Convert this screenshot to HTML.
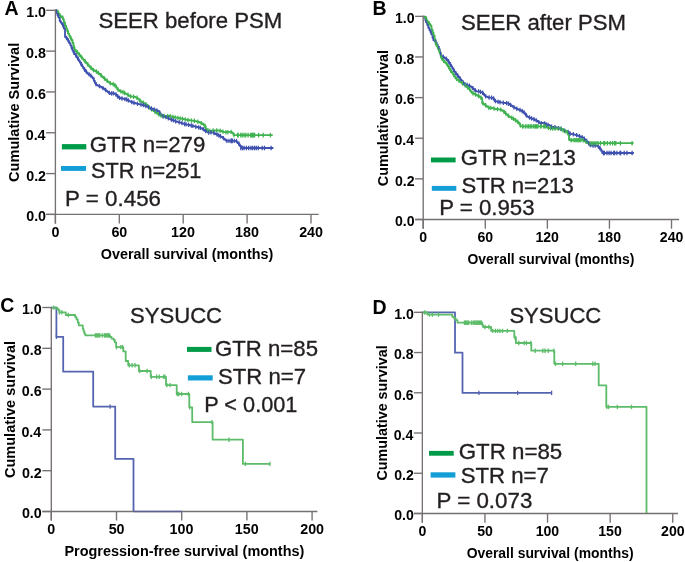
<!DOCTYPE html>
<html><head><meta charset="utf-8"><style>
html,body{margin:0;padding:0;background:#fff;width:685px;height:562px;overflow:hidden}
svg{display:block;will-change:transform}
text{font-family:"Liberation Sans",sans-serif}
</style></head><body>
<svg width="685" height="562" viewBox="0 0 685 562" font-family="Liberation Sans, sans-serif">
<rect width="685" height="562" fill="#fff"/>
<polyline points="55.4,10.2 56.5,10.2 56.5,11.3 57.5,11.3 57.5,12.1 58.6,12.1 58.6,14.4 59.7,14.4 59.7,15.6 60.7,15.6 60.7,16.6 61.8,16.6 61.8,17.4 62.9,17.4 62.9,19.3 63.9,19.3 63.9,22.5 65.0,22.5 65.0,25.6 66.1,25.6 66.1,28.4 67.1,28.4 67.1,31.1 68.2,31.1 68.2,33.8 69.3,33.8 69.3,36.1 70.3,36.1 70.3,38.1 71.4,38.1 71.4,40.3 72.5,40.3 72.5,43.0 73.5,43.0 73.5,47.3 74.6,47.3 74.6,49.7 75.7,49.7 75.7,51.2 76.7,51.2 76.7,52.3 77.8,52.3 77.8,53.3 78.9,53.3 78.9,54.5 79.9,54.5 79.9,55.8 81.0,55.8 81.0,57.1 82.1,57.1 82.1,58.4 83.1,58.4 83.1,59.6 84.2,59.6 84.2,60.9 85.3,60.9 85.3,62.1 86.3,62.1 86.3,63.3 87.4,63.3 87.4,64.5 88.5,64.5 88.5,65.7 89.5,65.7 89.5,66.9 90.6,66.9 90.6,67.9 91.7,67.9 91.7,69.0 92.7,69.0 92.7,70.0 93.8,70.0 93.8,70.5 94.9,70.5 94.9,71.0 95.9,71.0 95.9,71.6 97.0,71.6 97.0,72.3 98.1,72.3 98.1,73.2 99.1,73.2 99.1,74.0 100.2,74.0 100.2,74.9 101.3,74.9 101.3,76.0 102.3,76.0 102.3,77.0 103.4,77.0 103.4,78.0 104.5,78.0 104.5,78.9 105.5,78.9 105.5,79.9 106.6,79.9 106.6,80.8 107.7,80.8 107.7,81.6 108.7,81.6 108.7,82.4 109.8,82.4 109.8,83.3 110.9,83.3 110.9,83.8 111.9,83.8 111.9,84.0 113.0,84.0 113.0,84.3 114.1,84.3 114.1,85.0 115.1,85.0 115.1,85.7 116.2,85.7 116.2,87.7 117.3,87.7 117.3,89.4 118.3,89.4 118.3,90.2 119.4,90.2 119.4,91.0 120.5,91.0 120.5,91.4 121.5,91.4 121.5,91.8 122.6,91.8 122.6,92.2 123.7,92.2 123.7,92.7 124.7,92.7 124.7,93.3 125.8,93.3 125.8,93.8 126.9,93.8 126.9,94.4 127.9,94.4 127.9,95.1 129.0,95.1 129.0,95.8 130.1,95.8 130.1,96.4 131.1,96.4 131.1,96.5 132.2,96.5 132.2,96.6 133.3,96.6 133.3,96.7 134.3,96.7 134.3,96.8 135.4,96.8 135.4,97.3 136.5,97.3 136.5,97.8 137.5,97.8 137.5,98.6 138.6,98.6 138.6,99.7 139.7,99.7 139.7,100.8 140.7,100.8 140.7,101.5 141.8,101.5 141.8,102.1 142.9,102.1 142.9,102.8 143.9,102.8 143.9,103.4 145.0,103.4 145.0,104.1 146.1,104.1 146.1,104.7 147.1,104.7 147.1,105.5 148.2,105.5 148.2,106.8 149.3,106.8 149.3,108.2 150.3,108.2 150.3,108.9 151.4,108.9 151.4,109.6 152.5,109.6 152.5,110.2 153.5,110.2 153.5,111.0 154.6,111.0 154.6,111.8 155.7,111.8 155.7,112.7 156.7,112.7 156.7,113.5 157.8,113.5 157.8,114.1 158.9,114.1 158.9,114.6 159.9,114.6 159.9,115.2 161.0,115.2 161.0,115.7 162.1,115.7 162.1,116.0 163.1,116.0 163.1,116.0 164.2,116.0 164.2,116.0 165.3,116.0 165.3,116.0 166.3,116.0 166.3,116.0 167.4,116.0 167.4,116.0 168.5,116.0 168.5,116.0 169.5,116.0 169.5,116.2 170.6,116.2 170.6,116.5 171.7,116.5 171.7,116.7 172.7,116.7 172.7,117.0 173.8,117.0 173.8,117.2 174.9,117.2 174.9,117.4 175.9,117.4 175.9,117.6 177.0,117.6 177.0,117.9 178.1,117.9 178.1,118.1 179.1,118.1 179.1,118.3 180.2,118.3 180.2,118.5 181.3,118.5 181.3,118.7 182.3,118.7 182.3,118.9 183.4,118.9 183.4,119.2 184.5,119.2 184.5,119.4 185.5,119.4 185.5,119.6 186.6,119.6 186.6,119.8 187.7,119.8 187.7,120.0 188.7,120.0 188.7,120.2 189.8,120.2 189.8,120.4 190.9,120.4 190.9,120.6 191.9,120.6 191.9,120.7 193.0,120.7 193.0,120.8 194.1,120.8 194.1,120.9 195.1,120.9 195.1,121.1 196.2,121.1 196.2,121.4 197.3,121.4 197.3,121.7 198.3,121.7 198.3,122.0 199.4,122.0 199.4,122.4 200.5,122.4 200.5,122.9 201.5,122.9 201.5,123.5 202.6,123.5 202.6,124.0 203.7,124.0 203.7,125.0 204.7,125.0 204.7,126.5 205.8,126.5 205.8,129.1 206.9,129.1 206.9,130.2 207.9,130.2 207.9,130.5 209.0,130.5 209.0,130.8 210.1,130.8 210.1,130.8 211.1,130.8 211.1,130.7 212.2,130.7 212.2,130.6 213.3,130.6 213.3,130.5 214.3,130.5 214.3,130.5 215.4,130.5 215.4,130.5 216.5,130.5 216.5,130.5 217.5,130.5 217.5,130.5 218.6,130.5 218.6,130.6 219.7,130.6 219.7,130.8 220.7,130.8 220.7,130.9 221.8,130.9 221.8,131.4 222.9,131.4 222.9,131.9 223.9,131.9 223.9,132.2 225.0,132.2 225.0,132.2 226.1,132.2 226.1,132.2 227.1,132.2 227.1,132.2 228.2,132.2 228.2,132.1 229.3,132.1 229.3,131.9 230.3,131.9 230.3,131.8 231.4,131.8 231.4,132.4 232.5,132.4 232.5,133.1 233.5,133.1 233.5,135.1 234.6,135.1 234.6,135.1 235.7,135.1 235.7,135.1 236.7,135.1 236.7,135.1 237.8,135.1 237.8,135.1 238.9,135.1 238.9,135.1 239.9,135.1 239.9,135.1 241.0,135.1 241.0,135.1 242.1,135.1 242.1,135.1 243.1,135.1 243.1,135.1 244.2,135.1 244.2,135.1 245.3,135.1 245.3,135.1 246.3,135.1 246.3,135.1 247.4,135.1 247.4,135.1 248.5,135.1 248.5,135.1 249.5,135.1 249.5,135.1 250.6,135.1 250.6,135.1 251.7,135.1 251.7,135.1 252.7,135.1 252.7,135.1 253.8,135.1 253.8,135.1 254.9,135.1 254.9,135.1 255.9,135.1 255.9,135.1 257.0,135.1 257.0,135.1 258.1,135.1 258.1,135.1 259.1,135.1 259.1,135.1 260.2,135.1 260.2,135.1 261.3,135.1 261.3,135.1 262.3,135.1 262.3,135.1 263.4,135.1 263.4,135.1 264.5,135.1 264.5,135.1 265.5,135.1 265.5,135.1 266.6,135.1 266.6,135.1 267.7,135.1 267.7,135.1 268.7,135.1 268.7,135.1 269.8,135.1 269.8,135.1 270.9,135.1 270.9,135.1 271.9,135.1 271.9,135.1 272.7,135.1 272.7,135.1" fill="none" stroke="#3fb34f" stroke-width="1.8" stroke-linejoin="round"/>
<polyline points="55.4,10.2 56.5,10.2 56.5,13.1 57.5,13.1 57.5,15.2 58.6,15.2 58.6,17.6 59.7,17.6 59.7,20.9 60.7,20.9 60.7,22.5 61.8,22.5 61.8,24.1 62.9,24.1 62.9,25.9 63.9,25.9 63.9,28.6 65.0,28.6 65.0,36.9 66.1,36.9 66.1,38.0 67.1,38.0 67.1,39.3 68.2,39.3 68.2,41.2 69.3,41.2 69.3,43.2 70.3,43.2 70.3,45.3 71.4,45.3 71.4,48.0 72.5,48.0 72.5,50.6 73.5,50.6 73.5,52.7 74.6,52.7 74.6,54.2 75.7,54.2 75.7,55.7 76.7,55.7 76.7,57.4 77.8,57.4 77.8,59.2 78.9,59.2 78.9,60.9 79.9,60.9 79.9,62.7 81.0,62.7 81.0,64.5 82.1,64.5 82.1,66.3 83.1,66.3 83.1,68.1 84.2,68.1 84.2,69.7 85.3,69.7 85.3,71.0 86.3,71.0 86.3,72.3 87.4,72.3 87.4,73.6 88.5,73.6 88.5,74.4 89.5,74.4 89.5,75.1 90.6,75.1 90.6,75.9 91.7,75.9 91.7,77.1 92.7,77.1 92.7,78.4 93.8,78.4 93.8,80.8 94.9,80.8 94.9,83.1 95.9,83.1 95.9,84.7 97.0,84.7 97.0,85.3 98.1,85.3 98.1,85.8 99.1,85.8 99.1,86.2 100.2,86.2 100.2,86.7 101.3,86.7 101.3,87.4 102.3,87.4 102.3,88.0 103.4,88.0 103.4,88.7 104.5,88.7 104.5,89.5 105.5,89.5 105.5,90.3 106.6,90.3 106.6,91.1 107.7,91.1 107.7,92.0 108.7,92.0 108.7,92.9 109.8,92.9 109.8,93.5 110.9,93.5 110.9,93.4 111.9,93.4 111.9,93.3 113.0,93.3 113.0,93.2 114.1,93.2 114.1,93.7 115.1,93.7 115.1,94.3 116.2,94.3 116.2,95.2 117.3,95.2 117.3,96.4 118.3,96.4 118.3,97.7 119.4,97.7 119.4,98.0 120.5,98.0 120.5,98.2 121.5,98.2 121.5,98.5 122.6,98.5 122.6,98.7 123.7,98.7 123.7,98.9 124.7,98.9 124.7,99.2 125.8,99.2 125.8,99.4 126.9,99.4 126.9,99.8 127.9,99.8 127.9,100.5 129.0,100.5 129.0,101.2 130.1,101.2 130.1,101.6 131.1,101.6 131.1,102.0 132.2,102.0 132.2,102.5 133.3,102.5 133.3,102.8 134.3,102.8 134.3,103.0 135.4,103.0 135.4,103.3 136.5,103.3 136.5,103.6 137.5,103.6 137.5,103.9 138.6,103.9 138.6,104.1 139.7,104.1 139.7,104.4 140.7,104.4 140.7,104.6 141.8,104.6 141.8,104.9 142.9,104.9 142.9,105.1 143.9,105.1 143.9,105.5 145.0,105.5 145.0,105.9 146.1,105.9 146.1,106.3 147.1,106.3 147.1,106.7 148.2,106.7 148.2,107.3 149.3,107.3 149.3,107.8 150.3,107.8 150.3,108.4 151.4,108.4 151.4,108.7 152.5,108.7 152.5,109.0 153.5,109.0 153.5,109.3 154.6,109.3 154.6,109.7 155.7,109.7 155.7,110.1 156.7,110.1 156.7,110.5 157.8,110.5 157.8,111.0 158.9,111.0 158.9,112.2 159.9,112.2 159.9,113.7 161.0,113.7 161.0,115.2 162.1,115.2 162.1,116.1 163.1,116.1 163.1,116.5 164.2,116.5 164.2,116.8 165.3,116.8 165.3,117.1 166.3,117.1 166.3,117.4 167.4,117.4 167.4,118.0 168.5,118.0 168.5,118.5 169.5,118.5 169.5,119.1 170.6,119.1 170.6,119.5 171.7,119.5 171.7,119.9 172.7,119.9 172.7,120.3 173.8,120.3 173.8,120.7 174.9,120.7 174.9,121.1 175.9,121.1 175.9,121.5 177.0,121.5 177.0,121.9 178.1,121.9 178.1,122.1 179.1,122.1 179.1,122.4 180.2,122.4 180.2,122.7 181.3,122.7 181.3,123.1 182.3,123.1 182.3,123.4 183.4,123.4 183.4,123.8 184.5,123.8 184.5,124.1 185.5,124.1 185.5,124.3 186.6,124.3 186.6,124.6 187.7,124.6 187.7,124.8 188.7,124.8 188.7,125.0 189.8,125.0 189.8,125.3 190.9,125.3 190.9,125.5 191.9,125.5 191.9,125.8 193.0,125.8 193.0,126.1 194.1,126.1 194.1,126.4 195.1,126.4 195.1,126.6 196.2,126.6 196.2,126.9 197.3,126.9 197.3,127.2 198.3,127.2 198.3,127.4 199.4,127.4 199.4,127.7 200.5,127.7 200.5,128.1 201.5,128.1 201.5,128.5 202.6,128.5 202.6,129.1 203.7,129.1 203.7,130.0 204.7,130.0 204.7,130.9 205.8,130.9 205.8,131.4 206.9,131.4 206.9,131.9 207.9,131.9 207.9,132.5 209.0,132.5 209.0,132.6 210.1,132.6 210.1,132.5 211.1,132.5 211.1,132.3 212.2,132.3 212.2,132.3 213.3,132.3 213.3,132.9 214.3,132.9 214.3,133.5 215.4,133.5 215.4,134.0 216.5,134.0 216.5,134.5 217.5,134.5 217.5,135.1 218.6,135.1 218.6,135.6 219.7,135.6 219.7,136.1 220.7,136.1 220.7,136.6 221.8,136.6 221.8,137.2 222.9,137.2 222.9,138.1 223.9,138.1 223.9,139.0 225.0,139.0 225.0,139.9 226.1,139.9 226.1,140.8 227.1,140.8 227.1,140.9 228.2,140.9 228.2,140.9 229.3,140.9 229.3,140.9 230.3,140.9 230.3,140.9 231.4,140.9 231.4,140.9 232.5,140.9 232.5,140.9 233.5,140.9 233.5,140.9 234.6,140.9 234.6,140.9 235.7,140.9 235.7,140.9 236.7,140.9 236.7,142.2 237.8,142.2 237.8,143.2 238.9,143.2 238.9,144.5 239.9,144.5 239.9,146.0 241.0,146.0 241.0,147.6 242.1,147.6 242.1,148.0 243.1,148.0 243.1,148.0 244.2,148.0 244.2,148.0 245.3,148.0 245.3,148.0 246.3,148.0 246.3,148.0 247.4,148.0 247.4,148.0 248.5,148.0 248.5,148.0 249.5,148.0 249.5,148.0 250.6,148.0 250.6,148.0 251.7,148.0 251.7,148.0 252.7,148.0 252.7,148.0 253.8,148.0 253.8,148.0 254.9,148.0 254.9,148.0 255.9,148.0 255.9,148.0 257.0,148.0 257.0,148.0 258.1,148.0 258.1,148.0 259.1,148.0 259.1,148.0 260.2,148.0 260.2,148.0 261.3,148.0 261.3,148.0 262.3,148.0 262.3,148.0 263.4,148.0 263.4,148.0 264.5,148.0 264.5,148.0 265.5,148.0 265.5,148.0 266.6,148.0 266.6,148.0 267.7,148.0 267.7,148.0 268.7,148.0 268.7,148.0 269.8,148.0 269.8,148.0 270.9,148.0 270.9,148.0 271.9,148.0 271.9,148.0 273.0,148.0 273.0,148.0 273.4,148.0 273.4,148.0" fill="none" stroke="#3f51b0" stroke-width="1.8" stroke-linejoin="round"/>
<line x1="58.0" y1="9.8" x2="58.0" y2="14.2" stroke="#3fb34f" stroke-width="1.2"/>
<line x1="60.1" y1="13.3" x2="60.1" y2="17.7" stroke="#3fb34f" stroke-width="1.2"/>
<line x1="62.7" y1="15.5" x2="62.7" y2="19.9" stroke="#3fb34f" stroke-width="1.2"/>
<line x1="65.1" y1="22.1" x2="65.1" y2="26.5" stroke="#3fb34f" stroke-width="1.2"/>
<line x1="67.9" y1="29.5" x2="67.9" y2="33.9" stroke="#3fb34f" stroke-width="1.2"/>
<line x1="70.8" y1="35.7" x2="70.8" y2="40.1" stroke="#3fb34f" stroke-width="1.2"/>
<line x1="72.5" y1="39.1" x2="72.5" y2="43.5" stroke="#3fb34f" stroke-width="1.2"/>
<line x1="74.0" y1="45.0" x2="74.0" y2="49.4" stroke="#3fb34f" stroke-width="1.2"/>
<line x1="77.3" y1="50.1" x2="77.3" y2="54.5" stroke="#3fb34f" stroke-width="1.2"/>
<line x1="79.4" y1="52.4" x2="79.4" y2="56.8" stroke="#3fb34f" stroke-width="1.2"/>
<line x1="81.5" y1="54.9" x2="81.5" y2="59.3" stroke="#3fb34f" stroke-width="1.2"/>
<line x1="85.1" y1="59.1" x2="85.1" y2="63.5" stroke="#3fb34f" stroke-width="1.2"/>
<line x1="87.7" y1="62.0" x2="87.7" y2="66.4" stroke="#3fb34f" stroke-width="1.2"/>
<line x1="91.0" y1="65.6" x2="91.0" y2="70.0" stroke="#3fb34f" stroke-width="1.2"/>
<line x1="93.5" y1="67.9" x2="93.5" y2="72.3" stroke="#3fb34f" stroke-width="1.2"/>
<line x1="96.4" y1="69.3" x2="96.4" y2="73.7" stroke="#3fb34f" stroke-width="1.2"/>
<line x1="98.3" y1="70.7" x2="98.3" y2="75.1" stroke="#3fb34f" stroke-width="1.2"/>
<line x1="101.1" y1="73.1" x2="101.1" y2="77.5" stroke="#3fb34f" stroke-width="1.2"/>
<line x1="104.5" y1="76.3" x2="104.5" y2="80.7" stroke="#3fb34f" stroke-width="1.2"/>
<line x1="107.2" y1="78.6" x2="107.2" y2="83.0" stroke="#3fb34f" stroke-width="1.2"/>
<line x1="110.3" y1="81.0" x2="110.3" y2="85.4" stroke="#3fb34f" stroke-width="1.2"/>
<line x1="113.2" y1="82.0" x2="113.2" y2="86.4" stroke="#3fb34f" stroke-width="1.2"/>
<line x1="114.9" y1="83.0" x2="114.9" y2="87.4" stroke="#3fb34f" stroke-width="1.2"/>
<line x1="118.1" y1="87.4" x2="118.1" y2="91.8" stroke="#3fb34f" stroke-width="1.2"/>
<line x1="120.8" y1="89.2" x2="120.8" y2="93.6" stroke="#3fb34f" stroke-width="1.2"/>
<line x1="123.0" y1="90.0" x2="123.0" y2="94.4" stroke="#3fb34f" stroke-width="1.2"/>
<line x1="124.7" y1="90.8" x2="124.7" y2="95.2" stroke="#3fb34f" stroke-width="1.2"/>
<line x1="128.0" y1="92.6" x2="128.0" y2="97.0" stroke="#3fb34f" stroke-width="1.2"/>
<line x1="130.6" y1="94.2" x2="130.6" y2="98.6" stroke="#3fb34f" stroke-width="1.2"/>
<line x1="133.6" y1="94.5" x2="133.6" y2="98.9" stroke="#3fb34f" stroke-width="1.2"/>
<line x1="137.0" y1="95.6" x2="137.0" y2="100.0" stroke="#3fb34f" stroke-width="1.2"/>
<line x1="140.0" y1="98.4" x2="140.0" y2="102.8" stroke="#3fb34f" stroke-width="1.2"/>
<line x1="143.5" y1="100.6" x2="143.5" y2="105.0" stroke="#3fb34f" stroke-width="1.2"/>
<line x1="145.9" y1="102.1" x2="145.9" y2="106.5" stroke="#3fb34f" stroke-width="1.2"/>
<line x1="149.1" y1="105.1" x2="149.1" y2="109.5" stroke="#3fb34f" stroke-width="1.2"/>
<line x1="151.6" y1="107.2" x2="151.6" y2="111.6" stroke="#3fb34f" stroke-width="1.2"/>
<line x1="155.1" y1="109.6" x2="155.1" y2="114.0" stroke="#3fb34f" stroke-width="1.2"/>
<line x1="158.5" y1="112.0" x2="158.5" y2="116.4" stroke="#3fb34f" stroke-width="1.2"/>
<line x1="160.3" y1="112.9" x2="160.3" y2="117.3" stroke="#3fb34f" stroke-width="1.2"/>
<line x1="162.1" y1="113.8" x2="162.1" y2="118.2" stroke="#3fb34f" stroke-width="1.2"/>
<line x1="164.1" y1="113.8" x2="164.1" y2="118.2" stroke="#3fb34f" stroke-width="1.2"/>
<line x1="167.7" y1="113.8" x2="167.7" y2="118.2" stroke="#3fb34f" stroke-width="1.2"/>
<line x1="170.2" y1="114.0" x2="170.2" y2="118.4" stroke="#3fb34f" stroke-width="1.2"/>
<line x1="173.0" y1="114.7" x2="173.0" y2="119.1" stroke="#3fb34f" stroke-width="1.2"/>
<line x1="175.2" y1="115.2" x2="175.2" y2="119.6" stroke="#3fb34f" stroke-width="1.2"/>
<line x1="177.8" y1="115.7" x2="177.8" y2="120.1" stroke="#3fb34f" stroke-width="1.2"/>
<line x1="180.2" y1="116.2" x2="180.2" y2="120.6" stroke="#3fb34f" stroke-width="1.2"/>
<line x1="182.5" y1="116.7" x2="182.5" y2="121.1" stroke="#3fb34f" stroke-width="1.2"/>
<line x1="185.3" y1="117.2" x2="185.3" y2="121.6" stroke="#3fb34f" stroke-width="1.2"/>
<line x1="188.0" y1="117.8" x2="188.0" y2="122.2" stroke="#3fb34f" stroke-width="1.2"/>
<line x1="191.5" y1="118.4" x2="191.5" y2="122.8" stroke="#3fb34f" stroke-width="1.2"/>
<line x1="194.4" y1="118.6" x2="194.4" y2="123.0" stroke="#3fb34f" stroke-width="1.2"/>
<line x1="197.9" y1="119.5" x2="197.9" y2="123.9" stroke="#3fb34f" stroke-width="1.2"/>
<line x1="201.3" y1="120.9" x2="201.3" y2="125.3" stroke="#3fb34f" stroke-width="1.2"/>
<line x1="204.9" y1="123.8" x2="204.9" y2="128.2" stroke="#3fb34f" stroke-width="1.2"/>
<line x1="207.9" y1="128.1" x2="207.9" y2="132.5" stroke="#3fb34f" stroke-width="1.2"/>
<line x1="209.8" y1="128.7" x2="209.8" y2="133.1" stroke="#3fb34f" stroke-width="1.2"/>
<line x1="213.1" y1="128.3" x2="213.1" y2="132.7" stroke="#3fb34f" stroke-width="1.2"/>
<line x1="216.7" y1="128.3" x2="216.7" y2="132.7" stroke="#3fb34f" stroke-width="1.2"/>
<line x1="220.1" y1="128.6" x2="220.1" y2="133.0" stroke="#3fb34f" stroke-width="1.2"/>
<line x1="222.9" y1="129.4" x2="222.9" y2="133.8" stroke="#3fb34f" stroke-width="1.2"/>
<line x1="225.9" y1="130.0" x2="225.9" y2="134.4" stroke="#3fb34f" stroke-width="1.2"/>
<line x1="227.9" y1="130.0" x2="227.9" y2="134.4" stroke="#3fb34f" stroke-width="1.2"/>
<line x1="231.2" y1="129.7" x2="231.2" y2="134.1" stroke="#3fb34f" stroke-width="1.2"/>
<line x1="233.9" y1="132.9" x2="233.9" y2="137.3" stroke="#3fb34f" stroke-width="1.2"/>
<line x1="58.0" y1="12.9" x2="58.0" y2="17.3" stroke="#3f51b0" stroke-width="1.2"/>
<line x1="59.7" y1="17.1" x2="59.7" y2="21.5" stroke="#3f51b0" stroke-width="1.2"/>
<line x1="63.0" y1="23.0" x2="63.0" y2="27.4" stroke="#3f51b0" stroke-width="1.2"/>
<line x1="66.6" y1="35.8" x2="66.6" y2="40.2" stroke="#3f51b0" stroke-width="1.2"/>
<line x1="68.4" y1="38.4" x2="68.4" y2="42.8" stroke="#3f51b0" stroke-width="1.2"/>
<line x1="71.6" y1="45.0" x2="71.6" y2="49.4" stroke="#3f51b0" stroke-width="1.2"/>
<line x1="74.0" y1="50.5" x2="74.0" y2="54.9" stroke="#3f51b0" stroke-width="1.2"/>
<line x1="75.9" y1="53.1" x2="75.9" y2="57.5" stroke="#3f51b0" stroke-width="1.2"/>
<line x1="78.1" y1="56.6" x2="78.1" y2="61.0" stroke="#3f51b0" stroke-width="1.2"/>
<line x1="81.2" y1="61.8" x2="81.2" y2="66.2" stroke="#3f51b0" stroke-width="1.2"/>
<line x1="84.6" y1="67.3" x2="84.6" y2="71.7" stroke="#3f51b0" stroke-width="1.2"/>
<line x1="86.3" y1="69.4" x2="86.3" y2="73.8" stroke="#3f51b0" stroke-width="1.2"/>
<line x1="89.1" y1="72.2" x2="89.1" y2="76.6" stroke="#3f51b0" stroke-width="1.2"/>
<line x1="90.8" y1="73.4" x2="90.8" y2="77.8" stroke="#3f51b0" stroke-width="1.2"/>
<line x1="93.8" y1="77.2" x2="93.8" y2="81.6" stroke="#3f51b0" stroke-width="1.2"/>
<line x1="96.1" y1="81.9" x2="96.1" y2="86.3" stroke="#3f51b0" stroke-width="1.2"/>
<line x1="99.4" y1="83.9" x2="99.4" y2="88.3" stroke="#3f51b0" stroke-width="1.2"/>
<line x1="103.0" y1="85.9" x2="103.0" y2="90.3" stroke="#3f51b0" stroke-width="1.2"/>
<line x1="105.7" y1="87.8" x2="105.7" y2="92.2" stroke="#3f51b0" stroke-width="1.2"/>
<line x1="109.3" y1="90.7" x2="109.3" y2="95.1" stroke="#3f51b0" stroke-width="1.2"/>
<line x1="111.5" y1="91.2" x2="111.5" y2="95.6" stroke="#3f51b0" stroke-width="1.2"/>
<line x1="113.2" y1="91.0" x2="113.2" y2="95.4" stroke="#3f51b0" stroke-width="1.2"/>
<line x1="116.0" y1="92.3" x2="116.0" y2="96.7" stroke="#3f51b0" stroke-width="1.2"/>
<line x1="117.7" y1="94.1" x2="117.7" y2="98.5" stroke="#3f51b0" stroke-width="1.2"/>
<line x1="119.6" y1="95.7" x2="119.6" y2="100.1" stroke="#3f51b0" stroke-width="1.2"/>
<line x1="122.0" y1="96.3" x2="122.0" y2="100.7" stroke="#3f51b0" stroke-width="1.2"/>
<line x1="124.9" y1="96.9" x2="124.9" y2="101.3" stroke="#3f51b0" stroke-width="1.2"/>
<line x1="126.7" y1="97.3" x2="126.7" y2="101.7" stroke="#3f51b0" stroke-width="1.2"/>
<line x1="128.4" y1="98.2" x2="128.4" y2="102.6" stroke="#3f51b0" stroke-width="1.2"/>
<line x1="131.8" y1="99.9" x2="131.8" y2="104.3" stroke="#3f51b0" stroke-width="1.2"/>
<line x1="134.0" y1="100.6" x2="134.0" y2="105.0" stroke="#3f51b0" stroke-width="1.2"/>
<line x1="137.5" y1="101.5" x2="137.5" y2="105.9" stroke="#3f51b0" stroke-width="1.2"/>
<line x1="141.0" y1="102.4" x2="141.0" y2="106.8" stroke="#3f51b0" stroke-width="1.2"/>
<line x1="143.3" y1="102.9" x2="143.3" y2="107.3" stroke="#3f51b0" stroke-width="1.2"/>
<line x1="145.8" y1="103.8" x2="145.8" y2="108.2" stroke="#3f51b0" stroke-width="1.2"/>
<line x1="148.5" y1="104.9" x2="148.5" y2="109.3" stroke="#3f51b0" stroke-width="1.2"/>
<line x1="151.4" y1="106.3" x2="151.4" y2="110.7" stroke="#3f51b0" stroke-width="1.2"/>
<line x1="154.2" y1="107.2" x2="154.2" y2="111.6" stroke="#3f51b0" stroke-width="1.2"/>
<line x1="156.9" y1="108.2" x2="156.9" y2="112.6" stroke="#3f51b0" stroke-width="1.2"/>
<line x1="159.7" y1="110.5" x2="159.7" y2="114.9" stroke="#3f51b0" stroke-width="1.2"/>
<line x1="163.2" y1="114.1" x2="163.2" y2="118.5" stroke="#3f51b0" stroke-width="1.2"/>
<line x1="165.9" y1="114.9" x2="165.9" y2="119.3" stroke="#3f51b0" stroke-width="1.2"/>
<line x1="168.3" y1="116.0" x2="168.3" y2="120.4" stroke="#3f51b0" stroke-width="1.2"/>
<line x1="171.4" y1="117.4" x2="171.4" y2="121.8" stroke="#3f51b0" stroke-width="1.2"/>
<line x1="173.4" y1="118.2" x2="173.4" y2="122.6" stroke="#3f51b0" stroke-width="1.2"/>
<line x1="175.6" y1="119.0" x2="175.6" y2="123.4" stroke="#3f51b0" stroke-width="1.2"/>
<line x1="179.2" y1="120.1" x2="179.2" y2="124.5" stroke="#3f51b0" stroke-width="1.2"/>
<line x1="181.9" y1="120.9" x2="181.9" y2="125.3" stroke="#3f51b0" stroke-width="1.2"/>
<line x1="184.6" y1="121.8" x2="184.6" y2="126.2" stroke="#3f51b0" stroke-width="1.2"/>
<line x1="186.1" y1="122.2" x2="186.1" y2="126.6" stroke="#3f51b0" stroke-width="1.2"/>
<line x1="188.6" y1="122.7" x2="188.6" y2="127.1" stroke="#3f51b0" stroke-width="1.2"/>
<line x1="191.3" y1="123.3" x2="191.3" y2="127.7" stroke="#3f51b0" stroke-width="1.2"/>
<line x1="192.9" y1="123.7" x2="192.9" y2="128.1" stroke="#3f51b0" stroke-width="1.2"/>
<line x1="195.8" y1="124.5" x2="195.8" y2="128.9" stroke="#3f51b0" stroke-width="1.2"/>
<line x1="198.6" y1="125.2" x2="198.6" y2="129.6" stroke="#3f51b0" stroke-width="1.2"/>
<line x1="200.3" y1="125.7" x2="200.3" y2="130.1" stroke="#3f51b0" stroke-width="1.2"/>
<line x1="203.2" y1="126.9" x2="203.2" y2="131.3" stroke="#3f51b0" stroke-width="1.2"/>
<line x1="205.7" y1="128.9" x2="205.7" y2="133.3" stroke="#3f51b0" stroke-width="1.2"/>
<line x1="208.7" y1="130.4" x2="208.7" y2="134.8" stroke="#3f51b0" stroke-width="1.2"/>
<line x1="211.0" y1="130.2" x2="211.0" y2="134.6" stroke="#3f51b0" stroke-width="1.2"/>
<line x1="214.0" y1="130.8" x2="214.0" y2="135.2" stroke="#3f51b0" stroke-width="1.2"/>
<line x1="217.1" y1="132.4" x2="217.1" y2="136.8" stroke="#3f51b0" stroke-width="1.2"/>
<line x1="218.7" y1="133.2" x2="218.7" y2="137.6" stroke="#3f51b0" stroke-width="1.2"/>
<line x1="220.4" y1="134.0" x2="220.4" y2="138.4" stroke="#3f51b0" stroke-width="1.2"/>
<line x1="223.4" y1="135.9" x2="223.4" y2="140.3" stroke="#3f51b0" stroke-width="1.2"/>
<line x1="226.9" y1="138.7" x2="226.9" y2="143.1" stroke="#3f51b0" stroke-width="1.2"/>
<line x1="229.0" y1="138.7" x2="229.0" y2="143.1" stroke="#3f51b0" stroke-width="1.2"/>
<line x1="231.5" y1="138.7" x2="231.5" y2="143.1" stroke="#3f51b0" stroke-width="1.2"/>
<line x1="234.3" y1="138.7" x2="234.3" y2="143.1" stroke="#3f51b0" stroke-width="1.2"/>
<line x1="236.5" y1="138.8" x2="236.5" y2="143.2" stroke="#3f51b0" stroke-width="1.2"/>
<line x1="238.9" y1="141.6" x2="238.9" y2="146.0" stroke="#3f51b0" stroke-width="1.2"/>
<line x1="237.6" y1="132.8" x2="237.6" y2="137.4" stroke="#3fb34f" stroke-width="1.3"/>
<line x1="238.2" y1="132.8" x2="238.2" y2="137.4" stroke="#3fb34f" stroke-width="1.3"/>
<line x1="240.8" y1="132.8" x2="240.8" y2="137.4" stroke="#3fb34f" stroke-width="1.3"/>
<line x1="242.2" y1="132.8" x2="242.2" y2="137.4" stroke="#3fb34f" stroke-width="1.3"/>
<line x1="244.1" y1="132.8" x2="244.1" y2="137.4" stroke="#3fb34f" stroke-width="1.3"/>
<line x1="245.8" y1="132.8" x2="245.8" y2="137.4" stroke="#3fb34f" stroke-width="1.3"/>
<line x1="248.1" y1="132.8" x2="248.1" y2="137.4" stroke="#3fb34f" stroke-width="1.3"/>
<line x1="250.7" y1="132.8" x2="250.7" y2="137.4" stroke="#3fb34f" stroke-width="1.3"/>
<line x1="251.5" y1="132.8" x2="251.5" y2="137.4" stroke="#3fb34f" stroke-width="1.3"/>
<line x1="252.3" y1="132.8" x2="252.3" y2="137.4" stroke="#3fb34f" stroke-width="1.3"/>
<line x1="253.1" y1="132.8" x2="253.1" y2="137.4" stroke="#3fb34f" stroke-width="1.3"/>
<line x1="253.9" y1="132.8" x2="253.9" y2="137.4" stroke="#3fb34f" stroke-width="1.3"/>
<line x1="254.6" y1="132.8" x2="254.6" y2="137.4" stroke="#3fb34f" stroke-width="1.3"/>
<line x1="258.6" y1="132.8" x2="258.6" y2="137.4" stroke="#3fb34f" stroke-width="1.3"/>
<line x1="263.2" y1="132.8" x2="263.2" y2="137.4" stroke="#3fb34f" stroke-width="1.3"/>
<line x1="270.4" y1="132.8" x2="270.4" y2="137.4" stroke="#3fb34f" stroke-width="1.3"/>
<line x1="240.8" y1="145.7" x2="240.8" y2="150.3" stroke="#3f51b0" stroke-width="1.3"/>
<line x1="242.5" y1="145.7" x2="242.5" y2="150.3" stroke="#3f51b0" stroke-width="1.3"/>
<line x1="244.1" y1="145.7" x2="244.1" y2="150.3" stroke="#3f51b0" stroke-width="1.3"/>
<line x1="246.4" y1="145.7" x2="246.4" y2="150.3" stroke="#3f51b0" stroke-width="1.3"/>
<line x1="248.7" y1="145.7" x2="248.7" y2="150.3" stroke="#3f51b0" stroke-width="1.3"/>
<line x1="251.0" y1="145.7" x2="251.0" y2="150.3" stroke="#3f51b0" stroke-width="1.3"/>
<line x1="252.7" y1="145.7" x2="252.7" y2="150.3" stroke="#3f51b0" stroke-width="1.3"/>
<line x1="254.6" y1="145.7" x2="254.6" y2="150.3" stroke="#3f51b0" stroke-width="1.3"/>
<line x1="256.3" y1="145.7" x2="256.3" y2="150.3" stroke="#3f51b0" stroke-width="1.3"/>
<line x1="258.3" y1="145.7" x2="258.3" y2="150.3" stroke="#3f51b0" stroke-width="1.3"/>
<line x1="262.2" y1="145.7" x2="262.2" y2="150.3" stroke="#3f51b0" stroke-width="1.3"/>
<line x1="264.5" y1="145.7" x2="264.5" y2="150.3" stroke="#3f51b0" stroke-width="1.3"/>
<line x1="271.1" y1="145.7" x2="271.1" y2="150.3" stroke="#3f51b0" stroke-width="1.3"/>
<line x1="231.0" y1="138.6" x2="231.0" y2="143.2" stroke="#3f51b0" stroke-width="1.3"/>
<line x1="232.3" y1="138.6" x2="232.3" y2="143.2" stroke="#3f51b0" stroke-width="1.3"/>
<polyline points="423.2,16.6 424.2,16.6 424.2,17.4 425.3,17.4 425.3,20.3 426.3,20.3 426.3,22.6 427.3,22.6 427.3,25.0 428.4,25.0 428.4,27.8 429.4,27.8 429.4,30.0 430.4,30.0 430.4,32.0 431.5,32.0 431.5,34.4 432.5,34.4 432.5,37.7 433.5,37.7 433.5,39.9 434.6,39.9 434.6,41.2 435.6,41.2 435.6,42.5 436.7,42.5 436.7,44.5 437.7,44.5 437.7,46.6 438.7,46.6 438.7,49.2 439.8,49.2 439.8,52.7 440.8,52.7 440.8,55.6 441.8,55.6 441.8,56.3 442.9,56.3 442.9,57.0 443.9,57.0 443.9,57.6 444.9,57.6 444.9,58.3 446.0,58.3 446.0,58.9 447.0,58.9 447.0,59.9 448.0,59.9 448.0,61.4 449.1,61.4 449.1,63.0 450.1,63.0 450.1,64.7 451.1,64.7 451.1,66.4 452.2,66.4 452.2,68.1 453.2,68.1 453.2,69.9 454.2,69.9 454.2,71.6 455.3,71.6 455.3,73.1 456.3,73.1 456.3,74.4 457.3,74.4 457.3,75.7 458.4,75.7 458.4,77.0 459.4,77.0 459.4,78.3 460.4,78.3 460.4,79.6 461.5,79.6 461.5,81.0 462.5,81.0 462.5,82.5 463.6,82.5 463.6,83.8 464.6,83.8 464.6,84.2 465.6,84.2 465.6,84.6 466.7,84.6 466.7,84.9 467.7,84.9 467.7,85.3 468.7,85.3 468.7,85.8 469.8,85.8 469.8,86.2 470.8,86.2 470.8,86.7 471.8,86.7 471.8,87.7 472.9,87.7 472.9,88.7 473.9,88.7 473.9,89.6 474.9,89.6 474.9,90.5 476.0,90.5 476.0,91.4 477.0,91.4 477.0,91.4 478.0,91.4 478.0,91.4 479.1,91.4 479.1,91.6 480.1,91.6 480.1,91.9 481.1,91.9 481.1,92.3 482.2,92.3 482.2,92.6 483.2,92.6 483.2,94.0 484.2,94.0 484.2,95.4 485.3,95.4 485.3,96.3 486.3,96.3 486.3,96.7 487.3,96.7 487.3,97.1 488.4,97.1 488.4,97.5 489.4,97.5 489.4,97.6 490.5,97.6 490.5,97.7 491.5,97.7 491.5,97.8 492.5,97.8 492.5,97.9 493.6,97.9 493.6,99.2 494.6,99.2 494.6,101.0 495.6,101.0 495.6,101.3 496.7,101.3 496.7,101.5 497.7,101.5 497.7,101.8 498.7,101.8 498.7,102.0 499.8,102.0 499.8,102.2 500.8,102.2 500.8,102.4 501.8,102.4 501.8,102.6 502.9,102.6 502.9,102.8 503.9,102.8 503.9,102.9 504.9,102.9 504.9,103.0 506.0,103.0 506.0,103.1 507.0,103.1 507.0,103.2 508.0,103.2 508.0,103.7 509.1,103.7 509.1,104.3 510.1,104.3 510.1,104.9 511.1,104.9 511.1,105.7 512.2,105.7 512.2,106.4 513.2,106.4 513.2,107.2 514.3,107.2 514.3,107.7 515.3,107.7 515.3,108.2 516.3,108.2 516.3,108.7 517.4,108.7 517.4,109.2 518.4,109.2 518.4,109.6 519.4,109.6 519.4,110.0 520.5,110.0 520.5,110.4 521.5,110.4 521.5,111.1 522.5,111.1 522.5,111.7 523.6,111.7 523.6,112.3 524.6,112.3 524.6,113.5 525.6,113.5 525.6,115.1 526.7,115.1 526.7,116.3 527.7,116.3 527.7,116.8 528.7,116.8 528.7,117.4 529.8,117.4 529.8,117.9 530.8,117.9 530.8,118.3 531.8,118.3 531.8,118.6 532.9,118.6 532.9,119.0 533.9,119.0 533.9,119.5 534.9,119.5 534.9,120.0 536.0,120.0 536.0,120.5 537.0,120.5 537.0,121.0 538.0,121.0 538.0,121.9 539.1,121.9 539.1,122.8 540.1,122.8 540.1,123.1 541.2,123.1 541.2,123.0 542.2,123.0 542.2,122.9 543.2,122.9 543.2,122.8 544.3,122.8 544.3,123.5 545.3,123.5 545.3,124.2 546.3,124.2 546.3,124.7 547.4,124.7 547.4,124.8 548.4,124.8 548.4,125.0 549.4,125.0 549.4,125.6 550.5,125.6 550.5,126.3 551.5,126.3 551.5,126.8 552.5,126.8 552.5,127.0 553.6,127.0 553.6,127.1 554.6,127.1 554.6,127.2 555.6,127.2 555.6,127.4 556.7,127.4 556.7,127.7 557.7,127.7 557.7,128.0 558.7,128.0 558.7,128.3 559.8,128.3 559.8,128.7 560.8,128.7 560.8,129.1 561.8,129.1 561.8,129.5 562.9,129.5 562.9,130.0 563.9,130.0 563.9,130.5 564.9,130.5 564.9,131.0 566.0,131.0 566.0,131.4 567.0,131.4 567.0,131.7 568.1,131.7 568.1,132.1 569.1,132.1 569.1,133.2 570.1,133.2 570.1,133.9 571.2,133.9 571.2,134.1 572.2,134.1 572.2,134.2 573.2,134.2 573.2,134.3 574.3,134.3 574.3,134.6 575.3,134.6 575.3,134.9 576.3,134.9 576.3,135.2 577.4,135.2 577.4,135.6 578.4,135.6 578.4,135.9 579.4,135.9 579.4,136.4 580.5,136.4 580.5,136.8 581.5,136.8 581.5,137.2 582.5,137.2 582.5,137.7 583.6,137.7 583.6,138.6 584.6,138.6 584.6,139.4 585.6,139.4 585.6,140.5 586.7,140.5 586.7,141.7 587.7,141.7 587.7,142.9 588.7,142.9 588.7,144.0 589.8,144.0 589.8,145.0 590.8,145.0 590.8,145.5 591.9,145.5 591.9,145.5 592.9,145.5 592.9,145.5 593.9,145.5 593.9,145.5 595.0,145.5 595.0,145.5 596.0,145.5 596.0,145.5 597.0,145.5 597.0,145.9 598.1,145.9 598.1,146.7 599.1,146.7 599.1,147.7 600.1,147.7 600.1,149.2 601.2,149.2 601.2,150.9 602.2,150.9 602.2,153.0 603.2,153.0 603.2,153.0 604.3,153.0 604.3,153.0 605.3,153.0 605.3,153.0 606.3,153.0 606.3,153.0 607.4,153.0 607.4,153.0 608.4,153.0 608.4,153.0 609.4,153.0 609.4,153.0 610.5,153.0 610.5,153.0 611.5,153.0 611.5,153.0 612.5,153.0 612.5,153.0 613.6,153.0 613.6,153.0 614.6,153.0 614.6,153.0 615.6,153.0 615.6,153.0 616.7,153.0 616.7,153.0 617.7,153.0 617.7,153.0 618.8,153.0 618.8,153.0 619.8,153.0 619.8,153.0 620.8,153.0 620.8,153.0 621.9,153.0 621.9,153.0 622.9,153.0 622.9,153.0 623.9,153.0 623.9,153.0 625.0,153.0 625.0,153.0 626.0,153.0 626.0,153.0 627.0,153.0 627.0,153.0 628.1,153.0 628.1,153.0 629.1,153.0 629.1,153.0 630.1,153.0 630.1,153.0 631.2,153.0 631.2,153.0 632.2,153.0 632.2,153.0 633.2,153.0 633.2,153.0 633.9,153.0 633.9,153.0" fill="none" stroke="#3f51b0" stroke-width="1.8" stroke-linejoin="round"/>
<polyline points="423.2,16.6 424.2,16.6 424.2,16.6 425.3,16.6 425.3,17.6 426.3,17.6 426.3,20.1 427.3,20.1 427.3,21.6 428.4,21.6 428.4,23.0 429.4,23.0 429.4,24.1 430.4,24.1 430.4,25.7 431.5,25.7 431.5,29.7 432.5,29.7 432.5,32.3 433.5,32.3 433.5,35.4 434.6,35.4 434.6,39.5 435.6,39.5 435.6,43.8 436.7,43.8 436.7,46.2 437.7,46.2 437.7,48.3 438.7,48.3 438.7,50.6 439.8,50.6 439.8,53.3 440.8,53.3 440.8,57.6 441.8,57.6 441.8,59.0 442.9,59.0 442.9,60.4 443.9,60.4 443.9,61.5 444.9,61.5 444.9,62.5 446.0,62.5 446.0,63.6 447.0,63.6 447.0,64.9 448.0,64.9 448.0,66.7 449.1,66.7 449.1,68.5 450.1,68.5 450.1,70.4 451.1,70.4 451.1,71.8 452.2,71.8 452.2,73.2 453.2,73.2 453.2,74.7 454.2,74.7 454.2,76.4 455.3,76.4 455.3,78.2 456.3,78.2 456.3,79.1 457.3,79.1 457.3,79.8 458.4,79.8 458.4,80.6 459.4,80.6 459.4,81.4 460.4,81.4 460.4,82.2 461.5,82.2 461.5,83.0 462.5,83.0 462.5,83.7 463.6,83.7 463.6,84.5 464.6,84.5 464.6,85.3 465.6,85.3 465.6,86.1 466.7,86.1 466.7,87.0 467.7,87.0 467.7,88.0 468.7,88.0 468.7,89.0 469.8,89.0 469.8,90.1 470.8,90.1 470.8,91.7 471.8,91.7 471.8,92.9 472.9,92.9 472.9,93.4 473.9,93.4 473.9,93.9 474.9,93.9 474.9,94.4 476.0,94.4 476.0,95.0 477.0,95.0 477.0,95.5 478.0,95.5 478.0,96.0 479.1,96.0 479.1,96.7 480.1,96.7 480.1,97.4 481.1,97.4 481.1,98.2 482.2,98.2 482.2,103.2 483.2,103.2 483.2,103.9 484.2,103.9 484.2,104.6 485.3,104.6 485.3,105.4 486.3,105.4 486.3,106.1 487.3,106.1 487.3,106.9 488.4,106.9 488.4,107.7 489.4,107.7 489.4,107.8 490.5,107.8 490.5,107.9 491.5,107.9 491.5,108.0 492.5,108.0 492.5,108.2 493.6,108.2 493.6,108.5 494.6,108.5 494.6,108.8 495.6,108.8 495.6,109.0 496.7,109.0 496.7,109.1 497.7,109.1 497.7,109.2 498.7,109.2 498.7,109.4 499.8,109.4 499.8,109.5 500.8,109.5 500.8,109.9 501.8,109.9 501.8,110.4 502.9,110.4 502.9,111.1 503.9,111.1 503.9,112.1 504.9,112.1 504.9,113.2 506.0,113.2 506.0,114.1 507.0,114.1 507.0,115.0 508.0,115.0 508.0,115.9 509.1,115.9 509.1,116.7 510.1,116.7 510.1,117.2 511.1,117.2 511.1,117.8 512.2,117.8 512.2,118.3 513.2,118.3 513.2,119.0 514.3,119.0 514.3,119.7 515.3,119.7 515.3,120.5 516.3,120.5 516.3,121.2 517.4,121.2 517.4,121.9 518.4,121.9 518.4,122.7 519.4,122.7 519.4,124.5 520.5,124.5 520.5,126.4 521.5,126.4 521.5,126.4 522.5,126.4 522.5,126.4 523.6,126.4 523.6,126.4 524.6,126.4 524.6,126.4 525.6,126.4 525.6,126.4 526.7,126.4 526.7,126.4 527.7,126.4 527.7,126.4 528.7,126.4 528.7,126.4 529.8,126.4 529.8,126.4 530.8,126.4 530.8,126.4 531.8,126.4 531.8,126.4 532.9,126.4 532.9,126.4 533.9,126.4 533.9,126.4 534.9,126.4 534.9,126.4 536.0,126.4 536.0,126.4 537.0,126.4 537.0,126.4 538.0,126.4 538.0,126.4 539.1,126.4 539.1,126.4 540.1,126.4 540.1,126.4 541.2,126.4 541.2,126.4 542.2,126.4 542.2,126.4 543.2,126.4 543.2,126.4 544.3,126.4 544.3,126.4 545.3,126.4 545.3,126.6 546.3,126.6 546.3,127.1 547.4,127.1 547.4,127.6 548.4,127.6 548.4,127.9 549.4,127.9 549.4,128.2 550.5,128.2 550.5,128.4 551.5,128.4 551.5,128.6 552.5,128.6 552.5,128.6 553.6,128.6 553.6,128.6 554.6,128.6 554.6,128.6 555.6,128.6 555.6,128.6 556.7,128.6 556.7,128.6 557.7,128.6 557.7,128.6 558.7,128.6 558.7,128.6 559.8,128.6 559.8,128.6 560.8,128.6 560.8,129.1 561.8,129.1 561.8,129.7 562.9,129.7 562.9,130.4 563.9,130.4 563.9,130.9 564.9,130.9 564.9,131.4 566.0,131.4 566.0,131.9 567.0,131.9 567.0,132.3 568.1,132.3 568.1,134.7 569.1,134.7 569.1,140.1 570.1,140.1 570.1,140.1 571.2,140.1 571.2,140.1 572.2,140.1 572.2,140.1 573.2,140.1 573.2,140.1 574.3,140.1 574.3,140.1 575.3,140.1 575.3,140.1 576.3,140.1 576.3,140.1 577.4,140.1 577.4,140.1 578.4,140.1 578.4,140.1 579.4,140.1 579.4,140.1 580.5,140.1 580.5,140.1 581.5,140.1 581.5,140.1 582.5,140.1 582.5,140.2 583.6,140.2 583.6,140.8 584.6,140.8 584.6,141.3 585.6,141.3 585.6,141.9 586.7,141.9 586.7,142.6 587.7,142.6 587.7,143.2 588.7,143.2 588.7,143.2 589.8,143.2 589.8,143.2 590.8,143.2 590.8,143.2 591.9,143.2 591.9,143.2 592.9,143.2 592.9,143.2 593.9,143.2 593.9,143.2 595.0,143.2 595.0,143.2 596.0,143.2 596.0,143.2 597.0,143.2 597.0,143.2 598.1,143.2 598.1,143.2 599.1,143.2 599.1,143.2 600.1,143.2 600.1,143.2 601.2,143.2 601.2,143.2 602.2,143.2 602.2,143.2 603.2,143.2 603.2,143.2 604.3,143.2 604.3,143.2 605.3,143.2 605.3,143.2 606.3,143.2 606.3,143.2 607.4,143.2 607.4,143.2 608.4,143.2 608.4,143.2 609.4,143.2 609.4,143.2 610.5,143.2 610.5,143.2 611.5,143.2 611.5,143.2 612.5,143.2 612.5,143.2 613.6,143.2 613.6,143.2 614.6,143.2 614.6,143.2 615.6,143.2 615.6,143.2 616.7,143.2 616.7,143.2 617.7,143.2 617.7,143.2 618.8,143.2 618.8,143.2 619.8,143.2 619.8,143.2 620.8,143.2 620.8,143.2 621.9,143.2 621.9,143.2 622.9,143.2 622.9,143.2 623.9,143.2 623.9,143.2 625.0,143.2 625.0,143.2 626.0,143.2 626.0,143.2 627.0,143.2 627.0,143.2 628.1,143.2 628.1,143.2 629.1,143.2 629.1,143.2 630.1,143.2 630.1,143.2 631.2,143.2 631.2,143.2 632.2,143.2 632.2,143.2 633.2,143.2 633.2,143.2 633.6,143.2 633.6,143.2" fill="none" stroke="#3fb34f" stroke-width="1.8" stroke-linejoin="round"/>
<line x1="426.0" y1="18.6" x2="426.0" y2="23.0" stroke="#3f51b0" stroke-width="1.2"/>
<line x1="428.3" y1="24.1" x2="428.3" y2="28.5" stroke="#3f51b0" stroke-width="1.2"/>
<line x1="431.1" y1="30.2" x2="431.1" y2="34.6" stroke="#3f51b0" stroke-width="1.2"/>
<line x1="433.3" y1="36.4" x2="433.3" y2="40.8" stroke="#3f51b0" stroke-width="1.2"/>
<line x1="435.7" y1="39.7" x2="435.7" y2="44.1" stroke="#3f51b0" stroke-width="1.2"/>
<line x1="438.8" y1="45.9" x2="438.8" y2="50.3" stroke="#3f51b0" stroke-width="1.2"/>
<line x1="440.4" y1="51.2" x2="440.4" y2="55.6" stroke="#3f51b0" stroke-width="1.2"/>
<line x1="443.2" y1="54.6" x2="443.2" y2="59.0" stroke="#3f51b0" stroke-width="1.2"/>
<line x1="446.3" y1="56.6" x2="446.3" y2="61.0" stroke="#3f51b0" stroke-width="1.2"/>
<line x1="448.5" y1="59.1" x2="448.5" y2="63.5" stroke="#3f51b0" stroke-width="1.2"/>
<line x1="450.5" y1="62.3" x2="450.5" y2="66.7" stroke="#3f51b0" stroke-width="1.2"/>
<line x1="453.7" y1="67.7" x2="453.7" y2="72.1" stroke="#3f51b0" stroke-width="1.2"/>
<line x1="455.8" y1="70.9" x2="455.8" y2="75.3" stroke="#3f51b0" stroke-width="1.2"/>
<line x1="457.7" y1="73.3" x2="457.7" y2="77.7" stroke="#3f51b0" stroke-width="1.2"/>
<line x1="460.2" y1="76.4" x2="460.2" y2="80.8" stroke="#3f51b0" stroke-width="1.2"/>
<line x1="463.2" y1="80.5" x2="463.2" y2="84.9" stroke="#3f51b0" stroke-width="1.2"/>
<line x1="465.0" y1="82.0" x2="465.0" y2="86.4" stroke="#3f51b0" stroke-width="1.2"/>
<line x1="467.2" y1="82.8" x2="467.2" y2="87.2" stroke="#3f51b0" stroke-width="1.2"/>
<line x1="469.5" y1="83.6" x2="469.5" y2="88.0" stroke="#3f51b0" stroke-width="1.2"/>
<line x1="472.8" y1="85.9" x2="472.8" y2="90.3" stroke="#3f51b0" stroke-width="1.2"/>
<line x1="475.2" y1="88.1" x2="475.2" y2="92.5" stroke="#3f51b0" stroke-width="1.2"/>
<line x1="478.6" y1="89.2" x2="478.6" y2="93.6" stroke="#3f51b0" stroke-width="1.2"/>
<line x1="480.5" y1="89.7" x2="480.5" y2="94.1" stroke="#3f51b0" stroke-width="1.2"/>
<line x1="482.7" y1="90.5" x2="482.7" y2="94.9" stroke="#3f51b0" stroke-width="1.2"/>
<line x1="485.7" y1="94.0" x2="485.7" y2="98.4" stroke="#3f51b0" stroke-width="1.2"/>
<line x1="489.1" y1="95.3" x2="489.1" y2="99.7" stroke="#3f51b0" stroke-width="1.2"/>
<line x1="491.6" y1="95.5" x2="491.6" y2="99.9" stroke="#3f51b0" stroke-width="1.2"/>
<line x1="493.6" y1="96.2" x2="493.6" y2="100.6" stroke="#3f51b0" stroke-width="1.2"/>
<line x1="495.4" y1="98.9" x2="495.4" y2="103.3" stroke="#3f51b0" stroke-width="1.2"/>
<line x1="498.1" y1="99.5" x2="498.1" y2="103.9" stroke="#3f51b0" stroke-width="1.2"/>
<line x1="500.0" y1="100.0" x2="500.0" y2="104.4" stroke="#3f51b0" stroke-width="1.2"/>
<line x1="503.3" y1="100.6" x2="503.3" y2="105.0" stroke="#3f51b0" stroke-width="1.2"/>
<line x1="506.6" y1="100.9" x2="506.6" y2="105.3" stroke="#3f51b0" stroke-width="1.2"/>
<line x1="508.5" y1="101.5" x2="508.5" y2="105.9" stroke="#3f51b0" stroke-width="1.2"/>
<line x1="510.6" y1="102.7" x2="510.6" y2="107.1" stroke="#3f51b0" stroke-width="1.2"/>
<line x1="513.9" y1="105.0" x2="513.9" y2="109.4" stroke="#3f51b0" stroke-width="1.2"/>
<line x1="516.8" y1="106.5" x2="516.8" y2="110.9" stroke="#3f51b0" stroke-width="1.2"/>
<line x1="520.0" y1="107.8" x2="520.0" y2="112.2" stroke="#3f51b0" stroke-width="1.2"/>
<line x1="522.3" y1="109.0" x2="522.3" y2="113.4" stroke="#3f51b0" stroke-width="1.2"/>
<line x1="524.1" y1="110.2" x2="524.1" y2="114.6" stroke="#3f51b0" stroke-width="1.2"/>
<line x1="526.3" y1="113.1" x2="526.3" y2="117.5" stroke="#3f51b0" stroke-width="1.2"/>
<line x1="529.5" y1="115.3" x2="529.5" y2="119.7" stroke="#3f51b0" stroke-width="1.2"/>
<line x1="531.6" y1="116.2" x2="531.6" y2="120.6" stroke="#3f51b0" stroke-width="1.2"/>
<line x1="533.9" y1="117.0" x2="533.9" y2="121.4" stroke="#3f51b0" stroke-width="1.2"/>
<line x1="536.3" y1="118.2" x2="536.3" y2="122.6" stroke="#3f51b0" stroke-width="1.2"/>
<line x1="538.8" y1="119.9" x2="538.8" y2="124.3" stroke="#3f51b0" stroke-width="1.2"/>
<line x1="541.2" y1="120.9" x2="541.2" y2="125.3" stroke="#3f51b0" stroke-width="1.2"/>
<line x1="544.7" y1="121.2" x2="544.7" y2="125.6" stroke="#3f51b0" stroke-width="1.2"/>
<line x1="546.5" y1="122.4" x2="546.5" y2="126.8" stroke="#3f51b0" stroke-width="1.2"/>
<line x1="548.1" y1="122.7" x2="548.1" y2="127.1" stroke="#3f51b0" stroke-width="1.2"/>
<line x1="551.6" y1="124.6" x2="551.6" y2="129.0" stroke="#3f51b0" stroke-width="1.2"/>
<line x1="555.0" y1="125.0" x2="555.0" y2="129.4" stroke="#3f51b0" stroke-width="1.2"/>
<line x1="558.6" y1="125.9" x2="558.6" y2="130.3" stroke="#3f51b0" stroke-width="1.2"/>
<line x1="561.1" y1="126.8" x2="561.1" y2="131.2" stroke="#3f51b0" stroke-width="1.2"/>
<line x1="564.6" y1="128.4" x2="564.6" y2="132.8" stroke="#3f51b0" stroke-width="1.2"/>
<line x1="568.1" y1="129.7" x2="568.1" y2="134.1" stroke="#3f51b0" stroke-width="1.2"/>
<line x1="570.1" y1="131.5" x2="570.1" y2="135.9" stroke="#3f51b0" stroke-width="1.2"/>
<line x1="573.3" y1="132.0" x2="573.3" y2="136.4" stroke="#3f51b0" stroke-width="1.2"/>
<line x1="576.6" y1="132.9" x2="576.6" y2="137.3" stroke="#3f51b0" stroke-width="1.2"/>
<line x1="579.5" y1="134.0" x2="579.5" y2="138.4" stroke="#3f51b0" stroke-width="1.2"/>
<line x1="582.1" y1="135.0" x2="582.1" y2="139.4" stroke="#3f51b0" stroke-width="1.2"/>
<line x1="584.3" y1="136.5" x2="584.3" y2="140.9" stroke="#3f51b0" stroke-width="1.2"/>
<line x1="586.6" y1="138.8" x2="586.6" y2="143.2" stroke="#3f51b0" stroke-width="1.2"/>
<line x1="588.6" y1="141.1" x2="588.6" y2="145.5" stroke="#3f51b0" stroke-width="1.2"/>
<line x1="590.3" y1="142.8" x2="590.3" y2="147.2" stroke="#3f51b0" stroke-width="1.2"/>
<line x1="593.1" y1="143.3" x2="593.1" y2="147.7" stroke="#3f51b0" stroke-width="1.2"/>
<line x1="595.2" y1="143.3" x2="595.2" y2="147.7" stroke="#3f51b0" stroke-width="1.2"/>
<line x1="598.5" y1="144.4" x2="598.5" y2="148.8" stroke="#3f51b0" stroke-width="1.2"/>
<line x1="600.1" y1="146.2" x2="600.1" y2="150.6" stroke="#3f51b0" stroke-width="1.2"/>
<line x1="426.0" y1="15.9" x2="426.0" y2="20.3" stroke="#3fb34f" stroke-width="1.2"/>
<line x1="429.0" y1="21.0" x2="429.0" y2="25.4" stroke="#3fb34f" stroke-width="1.2"/>
<line x1="432.5" y1="28.8" x2="432.5" y2="33.2" stroke="#3fb34f" stroke-width="1.2"/>
<line x1="435.9" y1="41.1" x2="435.9" y2="45.5" stroke="#3fb34f" stroke-width="1.2"/>
<line x1="439.3" y1="48.7" x2="439.3" y2="53.1" stroke="#3fb34f" stroke-width="1.2"/>
<line x1="442.1" y1="56.5" x2="442.1" y2="60.9" stroke="#3fb34f" stroke-width="1.2"/>
<line x1="443.7" y1="58.6" x2="443.7" y2="63.0" stroke="#3fb34f" stroke-width="1.2"/>
<line x1="446.8" y1="61.7" x2="446.8" y2="66.1" stroke="#3fb34f" stroke-width="1.2"/>
<line x1="448.7" y1="64.8" x2="448.7" y2="69.2" stroke="#3fb34f" stroke-width="1.2"/>
<line x1="450.9" y1="68.6" x2="450.9" y2="73.0" stroke="#3fb34f" stroke-width="1.2"/>
<line x1="453.8" y1="72.7" x2="453.8" y2="77.1" stroke="#3fb34f" stroke-width="1.2"/>
<line x1="456.5" y1="76.7" x2="456.5" y2="81.1" stroke="#3fb34f" stroke-width="1.2"/>
<line x1="458.9" y1="78.4" x2="458.9" y2="82.8" stroke="#3fb34f" stroke-width="1.2"/>
<line x1="462.4" y1="81.1" x2="462.4" y2="85.5" stroke="#3fb34f" stroke-width="1.2"/>
<line x1="465.3" y1="83.2" x2="465.3" y2="87.6" stroke="#3fb34f" stroke-width="1.2"/>
<line x1="467.5" y1="85.1" x2="467.5" y2="89.5" stroke="#3fb34f" stroke-width="1.2"/>
<line x1="469.6" y1="87.2" x2="469.6" y2="91.6" stroke="#3fb34f" stroke-width="1.2"/>
<line x1="473.0" y1="91.0" x2="473.0" y2="95.4" stroke="#3fb34f" stroke-width="1.2"/>
<line x1="475.5" y1="92.3" x2="475.5" y2="96.7" stroke="#3fb34f" stroke-width="1.2"/>
<line x1="478.7" y1="93.9" x2="478.7" y2="98.3" stroke="#3fb34f" stroke-width="1.2"/>
<line x1="481.0" y1="95.5" x2="481.0" y2="99.9" stroke="#3fb34f" stroke-width="1.2"/>
<line x1="483.0" y1="101.2" x2="483.0" y2="105.6" stroke="#3fb34f" stroke-width="1.2"/>
<line x1="485.6" y1="103.1" x2="485.6" y2="107.5" stroke="#3fb34f" stroke-width="1.2"/>
<line x1="488.9" y1="105.5" x2="488.9" y2="109.9" stroke="#3fb34f" stroke-width="1.2"/>
<line x1="490.8" y1="105.7" x2="490.8" y2="110.1" stroke="#3fb34f" stroke-width="1.2"/>
<line x1="494.0" y1="106.3" x2="494.0" y2="110.7" stroke="#3fb34f" stroke-width="1.2"/>
<line x1="497.5" y1="107.0" x2="497.5" y2="111.4" stroke="#3fb34f" stroke-width="1.2"/>
<line x1="500.7" y1="107.4" x2="500.7" y2="111.8" stroke="#3fb34f" stroke-width="1.2"/>
<line x1="504.0" y1="109.5" x2="504.0" y2="113.9" stroke="#3fb34f" stroke-width="1.2"/>
<line x1="505.6" y1="111.1" x2="505.6" y2="115.5" stroke="#3fb34f" stroke-width="1.2"/>
<line x1="508.5" y1="113.6" x2="508.5" y2="118.0" stroke="#3fb34f" stroke-width="1.2"/>
<line x1="511.8" y1="115.6" x2="511.8" y2="120.0" stroke="#3fb34f" stroke-width="1.2"/>
<line x1="513.5" y1="116.6" x2="513.5" y2="121.0" stroke="#3fb34f" stroke-width="1.2"/>
<line x1="515.6" y1="118.1" x2="515.6" y2="122.5" stroke="#3fb34f" stroke-width="1.2"/>
<line x1="517.7" y1="119.6" x2="517.7" y2="124.0" stroke="#3fb34f" stroke-width="1.2"/>
<line x1="520.4" y1="123.1" x2="520.4" y2="127.5" stroke="#3fb34f" stroke-width="1.2"/>
<line x1="522.8" y1="124.2" x2="522.8" y2="128.6" stroke="#3fb34f" stroke-width="1.2"/>
<line x1="525.4" y1="124.2" x2="525.4" y2="128.6" stroke="#3fb34f" stroke-width="1.2"/>
<line x1="528.5" y1="124.2" x2="528.5" y2="128.6" stroke="#3fb34f" stroke-width="1.2"/>
<line x1="530.1" y1="124.2" x2="530.1" y2="128.6" stroke="#3fb34f" stroke-width="1.2"/>
<line x1="531.8" y1="124.2" x2="531.8" y2="128.6" stroke="#3fb34f" stroke-width="1.2"/>
<line x1="533.6" y1="124.2" x2="533.6" y2="128.6" stroke="#3fb34f" stroke-width="1.2"/>
<line x1="535.4" y1="124.2" x2="535.4" y2="128.6" stroke="#3fb34f" stroke-width="1.2"/>
<line x1="537.1" y1="124.2" x2="537.1" y2="128.6" stroke="#3fb34f" stroke-width="1.2"/>
<line x1="540.7" y1="124.2" x2="540.7" y2="128.6" stroke="#3fb34f" stroke-width="1.2"/>
<line x1="544.0" y1="124.2" x2="544.0" y2="128.6" stroke="#3fb34f" stroke-width="1.2"/>
<line x1="545.8" y1="124.3" x2="545.8" y2="128.7" stroke="#3fb34f" stroke-width="1.2"/>
<line x1="548.4" y1="125.6" x2="548.4" y2="130.0" stroke="#3fb34f" stroke-width="1.2"/>
<line x1="550.6" y1="126.1" x2="550.6" y2="130.5" stroke="#3fb34f" stroke-width="1.2"/>
<line x1="552.8" y1="126.4" x2="552.8" y2="130.8" stroke="#3fb34f" stroke-width="1.2"/>
<line x1="555.1" y1="126.4" x2="555.1" y2="130.8" stroke="#3fb34f" stroke-width="1.2"/>
<line x1="558.0" y1="126.4" x2="558.0" y2="130.8" stroke="#3fb34f" stroke-width="1.2"/>
<line x1="560.8" y1="126.5" x2="560.8" y2="130.9" stroke="#3fb34f" stroke-width="1.2"/>
<line x1="563.1" y1="128.0" x2="563.1" y2="132.4" stroke="#3fb34f" stroke-width="1.2"/>
<line x1="565.1" y1="129.0" x2="565.1" y2="133.4" stroke="#3fb34f" stroke-width="1.2"/>
<line x1="567.3" y1="130.0" x2="567.3" y2="134.4" stroke="#3fb34f" stroke-width="1.2"/>
<line x1="569.1" y1="135.4" x2="569.1" y2="139.8" stroke="#3fb34f" stroke-width="1.2"/>
<line x1="571.8" y1="137.9" x2="571.8" y2="142.3" stroke="#3fb34f" stroke-width="1.2"/>
<line x1="574.9" y1="137.9" x2="574.9" y2="142.3" stroke="#3fb34f" stroke-width="1.2"/>
<line x1="577.2" y1="137.9" x2="577.2" y2="142.3" stroke="#3fb34f" stroke-width="1.2"/>
<line x1="579.0" y1="137.9" x2="579.0" y2="142.3" stroke="#3fb34f" stroke-width="1.2"/>
<line x1="580.9" y1="137.9" x2="580.9" y2="142.3" stroke="#3fb34f" stroke-width="1.2"/>
<line x1="583.2" y1="138.1" x2="583.2" y2="142.5" stroke="#3fb34f" stroke-width="1.2"/>
<line x1="586.0" y1="139.7" x2="586.0" y2="144.1" stroke="#3fb34f" stroke-width="1.2"/>
<line x1="523.0" y1="124.2" x2="523.0" y2="128.6" stroke="#3fb34f" stroke-width="1.3"/>
<line x1="527.0" y1="124.2" x2="527.0" y2="128.6" stroke="#3fb34f" stroke-width="1.3"/>
<line x1="531.0" y1="124.2" x2="531.0" y2="128.6" stroke="#3fb34f" stroke-width="1.3"/>
<line x1="535.0" y1="124.2" x2="535.0" y2="128.6" stroke="#3fb34f" stroke-width="1.3"/>
<line x1="536.5" y1="124.2" x2="536.5" y2="128.6" stroke="#3fb34f" stroke-width="1.3"/>
<line x1="538.0" y1="124.2" x2="538.0" y2="128.6" stroke="#3fb34f" stroke-width="1.3"/>
<line x1="541.0" y1="124.2" x2="541.0" y2="128.6" stroke="#3fb34f" stroke-width="1.3"/>
<line x1="544.0" y1="124.2" x2="544.0" y2="128.6" stroke="#3fb34f" stroke-width="1.3"/>
<line x1="571.0" y1="137.9" x2="571.0" y2="142.3" stroke="#3fb34f" stroke-width="1.3"/>
<line x1="574.0" y1="137.9" x2="574.0" y2="142.3" stroke="#3fb34f" stroke-width="1.3"/>
<line x1="576.0" y1="137.9" x2="576.0" y2="142.3" stroke="#3fb34f" stroke-width="1.3"/>
<line x1="578.0" y1="137.9" x2="578.0" y2="142.3" stroke="#3fb34f" stroke-width="1.3"/>
<line x1="580.0" y1="137.9" x2="580.0" y2="142.3" stroke="#3fb34f" stroke-width="1.3"/>
<line x1="590.0" y1="140.9" x2="590.0" y2="145.5" stroke="#3fb34f" stroke-width="1.3"/>
<line x1="592.0" y1="140.9" x2="592.0" y2="145.5" stroke="#3fb34f" stroke-width="1.3"/>
<line x1="594.0" y1="140.9" x2="594.0" y2="145.5" stroke="#3fb34f" stroke-width="1.3"/>
<line x1="596.0" y1="140.9" x2="596.0" y2="145.5" stroke="#3fb34f" stroke-width="1.3"/>
<line x1="598.0" y1="140.9" x2="598.0" y2="145.5" stroke="#3fb34f" stroke-width="1.3"/>
<line x1="600.6" y1="140.9" x2="600.6" y2="145.5" stroke="#3fb34f" stroke-width="1.3"/>
<line x1="603.8" y1="140.9" x2="603.8" y2="145.5" stroke="#3fb34f" stroke-width="1.3"/>
<line x1="604.7" y1="140.9" x2="604.7" y2="145.5" stroke="#3fb34f" stroke-width="1.3"/>
<line x1="607.3" y1="140.9" x2="607.3" y2="145.5" stroke="#3fb34f" stroke-width="1.3"/>
<line x1="610.2" y1="140.9" x2="610.2" y2="145.5" stroke="#3fb34f" stroke-width="1.3"/>
<line x1="612.6" y1="140.9" x2="612.6" y2="145.5" stroke="#3fb34f" stroke-width="1.3"/>
<line x1="614.6" y1="140.9" x2="614.6" y2="145.5" stroke="#3fb34f" stroke-width="1.3"/>
<line x1="615.8" y1="140.9" x2="615.8" y2="145.5" stroke="#3fb34f" stroke-width="1.3"/>
<line x1="620.4" y1="140.9" x2="620.4" y2="145.5" stroke="#3fb34f" stroke-width="1.3"/>
<line x1="632.1" y1="140.9" x2="632.1" y2="145.5" stroke="#3fb34f" stroke-width="1.3"/>
<line x1="603.5" y1="150.7" x2="603.5" y2="155.3" stroke="#3f51b0" stroke-width="1.3"/>
<line x1="604.4" y1="150.7" x2="604.4" y2="155.3" stroke="#3f51b0" stroke-width="1.3"/>
<line x1="607.0" y1="150.7" x2="607.0" y2="155.3" stroke="#3f51b0" stroke-width="1.3"/>
<line x1="609.1" y1="150.7" x2="609.1" y2="155.3" stroke="#3f51b0" stroke-width="1.3"/>
<line x1="611.1" y1="150.7" x2="611.1" y2="155.3" stroke="#3f51b0" stroke-width="1.3"/>
<line x1="613.7" y1="150.7" x2="613.7" y2="155.3" stroke="#3f51b0" stroke-width="1.3"/>
<line x1="614.6" y1="150.7" x2="614.6" y2="155.3" stroke="#3f51b0" stroke-width="1.3"/>
<line x1="616.9" y1="150.7" x2="616.9" y2="155.3" stroke="#3f51b0" stroke-width="1.3"/>
<line x1="619.9" y1="150.7" x2="619.9" y2="155.3" stroke="#3f51b0" stroke-width="1.3"/>
<line x1="620.7" y1="150.7" x2="620.7" y2="155.3" stroke="#3f51b0" stroke-width="1.3"/>
<line x1="624.2" y1="150.7" x2="624.2" y2="155.3" stroke="#3f51b0" stroke-width="1.3"/>
<line x1="626.9" y1="150.7" x2="626.9" y2="155.3" stroke="#3f51b0" stroke-width="1.3"/>
<line x1="632.1" y1="150.7" x2="632.1" y2="155.3" stroke="#3f51b0" stroke-width="1.3"/>
<polyline points="51.3,307.6 56.4,307.6 56.4,336.8 63.2,336.8 63.2,371.7 93.2,371.7 93.2,406.6 115.2,406.6 115.2,458.9 133.5,458.9 133.5,511.5 133.5,511.5" fill="none" stroke="#5464b0" stroke-width="1.8" stroke-linejoin="round"/>
<line x1="56.4" y1="334.6" x2="56.4" y2="339.0" stroke="#5464b0" stroke-width="1.3"/>
<line x1="110.1" y1="404.4" x2="110.1" y2="408.8" stroke="#5464b0" stroke-width="1.3"/>
<polyline points="51.3,307.6 57.2,307.6 57.2,309.2 58.7,309.2 58.7,310.2 59.5,310.2 59.5,312.3 65.8,312.3 65.8,315.0 75.2,315.0 75.2,317.1 76.5,317.1 76.5,319.4 77.8,319.4 77.8,322.5 78.8,322.5 78.8,325.3 82.8,325.3 82.8,328.9 83.6,328.9 83.6,331.5 84.5,331.5 84.5,333.8 85.4,333.8 85.4,335.4 110.0,335.4 110.0,336.9 111.5,336.9 111.5,338.6 113.7,338.6 113.7,340.0 114.8,340.0 114.8,342.3 116.1,342.3 116.1,347.1 123.3,347.1 123.3,351.4 125.7,351.4 125.7,361.0 128.2,361.0 128.2,365.3 138.9,365.3 138.9,371.0 150.7,371.0 150.7,376.8 166.0,376.8 166.0,385.1 176.7,385.1 176.7,394.0 189.3,394.0 189.3,407.3 192.2,407.3 192.2,422.1 212.6,422.1 212.6,439.7 242.9,439.7 242.9,463.9 270.4,463.9" fill="none" stroke="#5cbc69" stroke-width="1.8" stroke-linejoin="round"/>
<line x1="53.8" y1="305.4" x2="53.8" y2="309.8" stroke="#5cbc69" stroke-width="1.3"/>
<line x1="59.3" y1="310.1" x2="59.3" y2="314.5" stroke="#5cbc69" stroke-width="1.3"/>
<line x1="61.9" y1="310.1" x2="61.9" y2="314.5" stroke="#5cbc69" stroke-width="1.3"/>
<line x1="68.3" y1="312.8" x2="68.3" y2="317.2" stroke="#5cbc69" stroke-width="1.3"/>
<line x1="95.4" y1="333.2" x2="95.4" y2="337.6" stroke="#5cbc69" stroke-width="1.3"/>
<line x1="96.3" y1="333.2" x2="96.3" y2="337.6" stroke="#5cbc69" stroke-width="1.3"/>
<line x1="97.2" y1="333.2" x2="97.2" y2="337.6" stroke="#5cbc69" stroke-width="1.3"/>
<line x1="98.0" y1="333.2" x2="98.0" y2="337.6" stroke="#5cbc69" stroke-width="1.3"/>
<line x1="98.9" y1="333.2" x2="98.9" y2="337.6" stroke="#5cbc69" stroke-width="1.3"/>
<line x1="99.8" y1="333.2" x2="99.8" y2="337.6" stroke="#5cbc69" stroke-width="1.3"/>
<line x1="102.3" y1="333.2" x2="102.3" y2="337.6" stroke="#5cbc69" stroke-width="1.3"/>
<line x1="104.4" y1="333.2" x2="104.4" y2="337.6" stroke="#5cbc69" stroke-width="1.3"/>
<line x1="105.2" y1="333.2" x2="105.2" y2="337.6" stroke="#5cbc69" stroke-width="1.3"/>
<line x1="106.1" y1="333.2" x2="106.1" y2="337.6" stroke="#5cbc69" stroke-width="1.3"/>
<line x1="106.9" y1="333.2" x2="106.9" y2="337.6" stroke="#5cbc69" stroke-width="1.3"/>
<line x1="107.7" y1="333.2" x2="107.7" y2="337.6" stroke="#5cbc69" stroke-width="1.3"/>
<line x1="108.6" y1="333.2" x2="108.6" y2="337.6" stroke="#5cbc69" stroke-width="1.3"/>
<line x1="109.4" y1="333.2" x2="109.4" y2="337.6" stroke="#5cbc69" stroke-width="1.3"/>
<line x1="116.5" y1="344.9" x2="116.5" y2="349.3" stroke="#5cbc69" stroke-width="1.3"/>
<line x1="120.8" y1="344.9" x2="120.8" y2="349.3" stroke="#5cbc69" stroke-width="1.3"/>
<line x1="122.5" y1="344.9" x2="122.5" y2="349.3" stroke="#5cbc69" stroke-width="1.3"/>
<line x1="129.3" y1="363.1" x2="129.3" y2="367.5" stroke="#5cbc69" stroke-width="1.3"/>
<line x1="132.1" y1="363.1" x2="132.1" y2="367.5" stroke="#5cbc69" stroke-width="1.3"/>
<line x1="135.0" y1="363.1" x2="135.0" y2="367.5" stroke="#5cbc69" stroke-width="1.3"/>
<line x1="139.6" y1="368.8" x2="139.6" y2="373.2" stroke="#5cbc69" stroke-width="1.3"/>
<line x1="147.1" y1="368.8" x2="147.1" y2="373.2" stroke="#5cbc69" stroke-width="1.3"/>
<line x1="151.3" y1="374.6" x2="151.3" y2="379.0" stroke="#5cbc69" stroke-width="1.3"/>
<line x1="156.7" y1="374.6" x2="156.7" y2="379.0" stroke="#5cbc69" stroke-width="1.3"/>
<line x1="159.3" y1="374.6" x2="159.3" y2="379.0" stroke="#5cbc69" stroke-width="1.3"/>
<line x1="163.8" y1="374.6" x2="163.8" y2="379.0" stroke="#5cbc69" stroke-width="1.3"/>
<line x1="164.9" y1="374.6" x2="164.9" y2="379.0" stroke="#5cbc69" stroke-width="1.3"/>
<line x1="166.9" y1="382.9" x2="166.9" y2="387.3" stroke="#5cbc69" stroke-width="1.3"/>
<line x1="170.0" y1="382.9" x2="170.0" y2="387.3" stroke="#5cbc69" stroke-width="1.3"/>
<line x1="177.3" y1="391.8" x2="177.3" y2="396.2" stroke="#5cbc69" stroke-width="1.3"/>
<line x1="178.7" y1="391.8" x2="178.7" y2="396.2" stroke="#5cbc69" stroke-width="1.3"/>
<line x1="181.6" y1="391.8" x2="181.6" y2="396.2" stroke="#5cbc69" stroke-width="1.3"/>
<line x1="188.3" y1="391.8" x2="188.3" y2="396.2" stroke="#5cbc69" stroke-width="1.3"/>
<line x1="189.6" y1="405.1" x2="189.6" y2="409.5" stroke="#5cbc69" stroke-width="1.3"/>
<line x1="211.9" y1="419.9" x2="211.9" y2="424.3" stroke="#5cbc69" stroke-width="1.3"/>
<line x1="229.0" y1="437.5" x2="229.0" y2="441.9" stroke="#5cbc69" stroke-width="1.3"/>
<line x1="245.4" y1="461.7" x2="245.4" y2="466.1" stroke="#5cbc69" stroke-width="1.3"/>
<line x1="269.8" y1="461.7" x2="269.8" y2="466.1" stroke="#5cbc69" stroke-width="1.3"/>
<polyline points="422.4,312.4 455.0,312.4 455.0,352.7 462.5,352.7 462.5,392.9 551.6,392.9" fill="none" stroke="#5464b0" stroke-width="1.8" stroke-linejoin="round"/>
<line x1="478.9" y1="390.7" x2="478.9" y2="395.1" stroke="#5464b0" stroke-width="1.3"/>
<line x1="517.7" y1="390.7" x2="517.7" y2="395.1" stroke="#5464b0" stroke-width="1.3"/>
<line x1="551.6" y1="390.7" x2="551.6" y2="395.1" stroke="#5464b0" stroke-width="1.3"/>
<polyline points="422.4,312.5 427.3,312.5 427.3,314.6 452.3,314.6 452.3,316.8 454.2,316.8 454.2,318.5 455.8,318.5 455.8,320.2 457.5,320.2 457.5,322.7 482.3,322.7 482.3,325.0 483.0,325.0 483.0,327.0 491.1,327.0 491.1,330.9 514.3,330.9 514.3,337.2 515.9,337.2 515.9,343.0 531.3,343.0 531.3,350.7 554.3,350.7 554.3,363.8 598.7,363.8 598.7,385.3 606.3,385.3 606.3,406.9 646.5,406.9 646.5,513.5 646.5,513.5" fill="none" stroke="#5cbc69" stroke-width="1.8" stroke-linejoin="round"/>
<line x1="424.7" y1="310.3" x2="424.7" y2="314.7" stroke="#5cbc69" stroke-width="1.3"/>
<line x1="429.5" y1="312.4" x2="429.5" y2="316.8" stroke="#5cbc69" stroke-width="1.3"/>
<line x1="432.4" y1="312.4" x2="432.4" y2="316.8" stroke="#5cbc69" stroke-width="1.3"/>
<line x1="438.6" y1="312.4" x2="438.6" y2="316.8" stroke="#5cbc69" stroke-width="1.3"/>
<line x1="464.4" y1="320.5" x2="464.4" y2="324.9" stroke="#5cbc69" stroke-width="1.3"/>
<line x1="465.3" y1="320.5" x2="465.3" y2="324.9" stroke="#5cbc69" stroke-width="1.3"/>
<line x1="466.2" y1="320.5" x2="466.2" y2="324.9" stroke="#5cbc69" stroke-width="1.3"/>
<line x1="467.0" y1="320.5" x2="467.0" y2="324.9" stroke="#5cbc69" stroke-width="1.3"/>
<line x1="467.9" y1="320.5" x2="467.9" y2="324.9" stroke="#5cbc69" stroke-width="1.3"/>
<line x1="468.8" y1="320.5" x2="468.8" y2="324.9" stroke="#5cbc69" stroke-width="1.3"/>
<line x1="471.4" y1="320.5" x2="471.4" y2="324.9" stroke="#5cbc69" stroke-width="1.3"/>
<line x1="473.1" y1="320.5" x2="473.1" y2="324.9" stroke="#5cbc69" stroke-width="1.3"/>
<line x1="474.0" y1="320.5" x2="474.0" y2="324.9" stroke="#5cbc69" stroke-width="1.3"/>
<line x1="475.0" y1="320.5" x2="475.0" y2="324.9" stroke="#5cbc69" stroke-width="1.3"/>
<line x1="475.9" y1="320.5" x2="475.9" y2="324.9" stroke="#5cbc69" stroke-width="1.3"/>
<line x1="476.8" y1="320.5" x2="476.8" y2="324.9" stroke="#5cbc69" stroke-width="1.3"/>
<line x1="477.8" y1="320.5" x2="477.8" y2="324.9" stroke="#5cbc69" stroke-width="1.3"/>
<line x1="478.7" y1="320.5" x2="478.7" y2="324.9" stroke="#5cbc69" stroke-width="1.3"/>
<line x1="479.6" y1="320.5" x2="479.6" y2="324.9" stroke="#5cbc69" stroke-width="1.3"/>
<line x1="480.6" y1="320.5" x2="480.6" y2="324.9" stroke="#5cbc69" stroke-width="1.3"/>
<line x1="481.5" y1="320.5" x2="481.5" y2="324.9" stroke="#5cbc69" stroke-width="1.3"/>
<line x1="485.0" y1="324.8" x2="485.0" y2="329.2" stroke="#5cbc69" stroke-width="1.3"/>
<line x1="488.9" y1="324.8" x2="488.9" y2="329.2" stroke="#5cbc69" stroke-width="1.3"/>
<line x1="492.8" y1="328.7" x2="492.8" y2="333.1" stroke="#5cbc69" stroke-width="1.3"/>
<line x1="495.5" y1="328.7" x2="495.5" y2="333.1" stroke="#5cbc69" stroke-width="1.3"/>
<line x1="497.7" y1="328.7" x2="497.7" y2="333.1" stroke="#5cbc69" stroke-width="1.3"/>
<line x1="499.9" y1="328.7" x2="499.9" y2="333.1" stroke="#5cbc69" stroke-width="1.3"/>
<line x1="502.5" y1="328.7" x2="502.5" y2="333.1" stroke="#5cbc69" stroke-width="1.3"/>
<line x1="507.3" y1="328.7" x2="507.3" y2="333.1" stroke="#5cbc69" stroke-width="1.3"/>
<line x1="514.7" y1="335.0" x2="514.7" y2="339.4" stroke="#5cbc69" stroke-width="1.3"/>
<line x1="518.8" y1="340.8" x2="518.8" y2="345.2" stroke="#5cbc69" stroke-width="1.3"/>
<line x1="524.2" y1="340.8" x2="524.2" y2="345.2" stroke="#5cbc69" stroke-width="1.3"/>
<line x1="526.4" y1="340.8" x2="526.4" y2="345.2" stroke="#5cbc69" stroke-width="1.3"/>
<line x1="530.8" y1="340.8" x2="530.8" y2="345.2" stroke="#5cbc69" stroke-width="1.3"/>
<line x1="535.2" y1="348.5" x2="535.2" y2="352.9" stroke="#5cbc69" stroke-width="1.3"/>
<line x1="542.8" y1="348.5" x2="542.8" y2="352.9" stroke="#5cbc69" stroke-width="1.3"/>
<line x1="545.0" y1="348.5" x2="545.0" y2="352.9" stroke="#5cbc69" stroke-width="1.3"/>
<line x1="548.3" y1="348.5" x2="548.3" y2="352.9" stroke="#5cbc69" stroke-width="1.3"/>
<line x1="553.8" y1="348.5" x2="553.8" y2="352.9" stroke="#5cbc69" stroke-width="1.3"/>
<line x1="555.5" y1="361.6" x2="555.5" y2="366.0" stroke="#5cbc69" stroke-width="1.3"/>
<line x1="562.6" y1="361.6" x2="562.6" y2="366.0" stroke="#5cbc69" stroke-width="1.3"/>
<line x1="575.7" y1="361.6" x2="575.7" y2="366.0" stroke="#5cbc69" stroke-width="1.3"/>
<line x1="592.8" y1="361.6" x2="592.8" y2="366.0" stroke="#5cbc69" stroke-width="1.3"/>
<line x1="595.0" y1="361.6" x2="595.0" y2="366.0" stroke="#5cbc69" stroke-width="1.3"/>
<line x1="606.8" y1="404.7" x2="606.8" y2="409.1" stroke="#5cbc69" stroke-width="1.3"/>
<line x1="608.5" y1="404.7" x2="608.5" y2="409.1" stroke="#5cbc69" stroke-width="1.3"/>
<line x1="617.3" y1="404.7" x2="617.3" y2="409.1" stroke="#5cbc69" stroke-width="1.3"/>
<line x1="631.5" y1="404.7" x2="631.5" y2="409.1" stroke="#5cbc69" stroke-width="1.3"/>
<line x1="46.1" y1="214.40" x2="55.4" y2="214.40" stroke="#767070" stroke-width="1.35"/>
<text x="26.19" y="221.33" font-size="14.30" font-weight="bold" fill="#000">0.0</text>
<line x1="46.1" y1="173.58" x2="55.4" y2="173.58" stroke="#767070" stroke-width="1.35"/>
<text x="26.19" y="180.51" font-size="14.30" font-weight="bold" fill="#000">0.2</text>
<line x1="46.1" y1="132.76" x2="55.4" y2="132.76" stroke="#767070" stroke-width="1.35"/>
<text x="25.69" y="139.69" font-size="14.30" font-weight="bold" fill="#000">0.4</text>
<line x1="46.1" y1="91.94" x2="55.4" y2="91.94" stroke="#767070" stroke-width="1.35"/>
<text x="26.12" y="98.87" font-size="14.30" font-weight="bold" fill="#000">0.6</text>
<line x1="46.1" y1="51.12" x2="55.4" y2="51.12" stroke="#767070" stroke-width="1.35"/>
<text x="26.05" y="58.05" font-size="14.30" font-weight="bold" fill="#000">0.8</text>
<line x1="46.1" y1="10.30" x2="55.4" y2="10.30" stroke="#767070" stroke-width="1.35"/>
<text x="26.19" y="17.23" font-size="14.30" font-weight="bold" fill="#000">1.0</text>
<line x1="55.40" y1="214.4" x2="55.40" y2="223.6" stroke="#767070" stroke-width="1.35"/>
<text x="51.43" y="237.31" font-size="14.30" font-weight="bold" fill="#000">0</text>
<line x1="119.30" y1="214.4" x2="119.30" y2="223.6" stroke="#767070" stroke-width="1.35"/>
<text x="111.40" y="237.31" font-size="14.30" font-weight="bold" fill="#000">60</text>
<line x1="183.20" y1="214.4" x2="183.20" y2="223.6" stroke="#767070" stroke-width="1.35"/>
<text x="171.12" y="237.31" font-size="14.30" font-weight="bold" fill="#000">120</text>
<line x1="247.10" y1="214.4" x2="247.10" y2="223.6" stroke="#767070" stroke-width="1.35"/>
<text x="235.02" y="237.31" font-size="14.30" font-weight="bold" fill="#000">180</text>
<line x1="311.00" y1="214.4" x2="311.00" y2="223.6" stroke="#767070" stroke-width="1.35"/>
<text x="299.13" y="237.31" font-size="14.30" font-weight="bold" fill="#000">240</text>
<line x1="55.4" y1="9.700000000000001" x2="55.4" y2="223.6" stroke="#767070" stroke-width="1.35"/>
<line x1="46.1" y1="214.4" x2="318.7" y2="214.4" stroke="#767070" stroke-width="1.35"/>
<line x1="415.1" y1="219.50" x2="423.2" y2="219.50" stroke="#767070" stroke-width="1.35"/>
<text x="394.96" y="226.36" font-size="14.10" font-weight="bold" fill="#000">0.0</text>
<line x1="415.1" y1="178.87" x2="423.2" y2="178.87" stroke="#767070" stroke-width="1.35"/>
<text x="394.96" y="185.73" font-size="14.10" font-weight="bold" fill="#000">0.2</text>
<line x1="415.1" y1="138.24" x2="423.2" y2="138.24" stroke="#767070" stroke-width="1.35"/>
<text x="394.47" y="145.10" font-size="14.10" font-weight="bold" fill="#000">0.4</text>
<line x1="415.1" y1="97.61" x2="423.2" y2="97.61" stroke="#767070" stroke-width="1.35"/>
<text x="394.89" y="104.47" font-size="14.10" font-weight="bold" fill="#000">0.6</text>
<line x1="415.1" y1="56.98" x2="423.2" y2="56.98" stroke="#767070" stroke-width="1.35"/>
<text x="394.82" y="63.84" font-size="14.10" font-weight="bold" fill="#000">0.8</text>
<line x1="415.1" y1="16.35" x2="423.2" y2="16.35" stroke="#767070" stroke-width="1.35"/>
<text x="394.96" y="23.21" font-size="14.10" font-weight="bold" fill="#000">1.0</text>
<line x1="423.20" y1="219.5" x2="423.20" y2="228.7" stroke="#767070" stroke-width="1.35"/>
<text x="419.29" y="242.27" font-size="14.10" font-weight="bold" fill="#000">0</text>
<line x1="485.28" y1="219.5" x2="485.28" y2="228.7" stroke="#767070" stroke-width="1.35"/>
<text x="477.49" y="242.27" font-size="14.10" font-weight="bold" fill="#000">60</text>
<line x1="547.36" y1="219.5" x2="547.36" y2="228.7" stroke="#767070" stroke-width="1.35"/>
<text x="535.45" y="242.27" font-size="14.10" font-weight="bold" fill="#000">120</text>
<line x1="609.44" y1="219.5" x2="609.44" y2="228.7" stroke="#767070" stroke-width="1.35"/>
<text x="597.53" y="242.27" font-size="14.10" font-weight="bold" fill="#000">180</text>
<line x1="671.52" y1="219.5" x2="671.52" y2="228.7" stroke="#767070" stroke-width="1.35"/>
<text x="659.82" y="242.27" font-size="14.10" font-weight="bold" fill="#000">240</text>
<line x1="423.2" y1="15.750000000000002" x2="423.2" y2="228.7" stroke="#767070" stroke-width="1.35"/>
<line x1="415.1" y1="219.5" x2="679" y2="219.5" stroke="#767070" stroke-width="1.35"/>
<line x1="42.3" y1="511.50" x2="51.3" y2="511.50" stroke="#767070" stroke-width="1.35"/>
<text x="21.89" y="518.43" font-size="14.30" font-weight="bold" fill="#000">0.0</text>
<line x1="42.3" y1="470.70" x2="51.3" y2="470.70" stroke="#767070" stroke-width="1.35"/>
<text x="21.89" y="477.63" font-size="14.30" font-weight="bold" fill="#000">0.2</text>
<line x1="42.3" y1="429.90" x2="51.3" y2="429.90" stroke="#767070" stroke-width="1.35"/>
<text x="21.39" y="436.83" font-size="14.30" font-weight="bold" fill="#000">0.4</text>
<line x1="42.3" y1="389.10" x2="51.3" y2="389.10" stroke="#767070" stroke-width="1.35"/>
<text x="21.82" y="396.03" font-size="14.30" font-weight="bold" fill="#000">0.6</text>
<line x1="42.3" y1="348.30" x2="51.3" y2="348.30" stroke="#767070" stroke-width="1.35"/>
<text x="21.75" y="355.23" font-size="14.30" font-weight="bold" fill="#000">0.8</text>
<line x1="42.3" y1="307.50" x2="51.3" y2="307.50" stroke="#767070" stroke-width="1.35"/>
<text x="21.89" y="314.43" font-size="14.30" font-weight="bold" fill="#000">1.0</text>
<line x1="51.30" y1="511.5" x2="51.30" y2="520.5" stroke="#767070" stroke-width="1.35"/>
<text x="47.33" y="534.21" font-size="14.30" font-weight="bold" fill="#000">0</text>
<line x1="116.50" y1="511.5" x2="116.50" y2="520.5" stroke="#767070" stroke-width="1.35"/>
<text x="108.64" y="534.21" font-size="14.30" font-weight="bold" fill="#000">50</text>
<line x1="181.70" y1="511.5" x2="181.70" y2="520.5" stroke="#767070" stroke-width="1.35"/>
<text x="169.62" y="534.21" font-size="14.30" font-weight="bold" fill="#000">100</text>
<line x1="246.90" y1="511.5" x2="246.90" y2="520.5" stroke="#767070" stroke-width="1.35"/>
<text x="234.82" y="534.21" font-size="14.30" font-weight="bold" fill="#000">150</text>
<line x1="312.10" y1="511.5" x2="312.10" y2="520.5" stroke="#767070" stroke-width="1.35"/>
<text x="300.23" y="534.21" font-size="14.30" font-weight="bold" fill="#000">200</text>
<line x1="51.3" y1="306.9" x2="51.3" y2="520.5" stroke="#767070" stroke-width="1.35"/>
<line x1="42.3" y1="511.5" x2="317.4" y2="511.5" stroke="#767070" stroke-width="1.35"/>
<line x1="413.9" y1="513.50" x2="422.35" y2="513.50" stroke="#767070" stroke-width="1.35"/>
<text x="394.16" y="520.36" font-size="14.10" font-weight="bold" fill="#000">0.0</text>
<line x1="413.9" y1="473.26" x2="422.35" y2="473.26" stroke="#767070" stroke-width="1.35"/>
<text x="394.16" y="480.12" font-size="14.10" font-weight="bold" fill="#000">0.2</text>
<line x1="413.9" y1="433.02" x2="422.35" y2="433.02" stroke="#767070" stroke-width="1.35"/>
<text x="393.67" y="439.88" font-size="14.10" font-weight="bold" fill="#000">0.4</text>
<line x1="413.9" y1="392.78" x2="422.35" y2="392.78" stroke="#767070" stroke-width="1.35"/>
<text x="394.09" y="399.64" font-size="14.10" font-weight="bold" fill="#000">0.6</text>
<line x1="413.9" y1="352.54" x2="422.35" y2="352.54" stroke="#767070" stroke-width="1.35"/>
<text x="394.02" y="359.40" font-size="14.10" font-weight="bold" fill="#000">0.8</text>
<line x1="413.9" y1="312.30" x2="422.35" y2="312.30" stroke="#767070" stroke-width="1.35"/>
<text x="394.16" y="319.16" font-size="14.10" font-weight="bold" fill="#000">1.0</text>
<line x1="422.35" y1="513.5" x2="422.35" y2="522.7" stroke="#767070" stroke-width="1.35"/>
<text x="418.44" y="535.77" font-size="14.10" font-weight="bold" fill="#000">0</text>
<line x1="484.95" y1="513.5" x2="484.95" y2="522.7" stroke="#767070" stroke-width="1.35"/>
<text x="477.20" y="535.77" font-size="14.10" font-weight="bold" fill="#000">50</text>
<line x1="547.55" y1="513.5" x2="547.55" y2="522.7" stroke="#767070" stroke-width="1.35"/>
<text x="535.64" y="535.77" font-size="14.10" font-weight="bold" fill="#000">100</text>
<line x1="610.15" y1="513.5" x2="610.15" y2="522.7" stroke="#767070" stroke-width="1.35"/>
<text x="598.24" y="535.77" font-size="14.10" font-weight="bold" fill="#000">150</text>
<line x1="672.75" y1="513.5" x2="672.75" y2="522.7" stroke="#767070" stroke-width="1.35"/>
<text x="661.05" y="535.77" font-size="14.10" font-weight="bold" fill="#000">200</text>
<line x1="422.35" y1="311.7" x2="422.35" y2="522.7" stroke="#767070" stroke-width="1.35"/>
<line x1="413.9" y1="513.5" x2="678" y2="513.5" stroke="#767070" stroke-width="1.35"/>
<line x1="133.5" y1="511.5" x2="182" y2="511.5" stroke="#5c5f98" stroke-width="1.4"/>
<text x="4.38" y="14.68" font-size="19.50" font-weight="bold" fill="#000">A</text>
<text x="372.39" y="14.90" font-size="19.50" font-weight="bold" fill="#000">B</text>
<text x="0.13" y="311.53" font-size="19.50" font-weight="bold" fill="#000">C</text>
<text x="372.39" y="313.78" font-size="19.50" font-weight="bold" fill="#000">D</text>
<text x="98.40" y="27.79" font-size="22.21" font-weight="normal" fill="#231f20" stroke="#231f20" stroke-width="0.35">SEER before PSM</text>
<text x="461.00" y="30.22" font-size="22.16" font-weight="normal" fill="#231f20" stroke="#231f20" stroke-width="0.35">SEER after PSM</text>
<text x="129.90" y="323.14" font-size="22.13" font-weight="normal" fill="#231f20" stroke="#231f20" stroke-width="0.35">SYSUCC</text>
<text x="509.41" y="322.61" font-size="22.06" font-weight="normal" fill="#231f20" stroke="#231f20" stroke-width="0.35">SYSUCC</text>
<text x="100.83" y="258.85" font-size="14.37" font-weight="bold" fill="#000">Overall survival (months)</text>
<text x="467.54" y="263.73" font-size="13.90" font-weight="bold" fill="#000">Overall survival (months)</text>
<text x="64.46" y="556.02" font-size="14.44" font-weight="bold" fill="#000">Progression-free survival (months)</text>
<text x="466.64" y="557.54" font-size="13.92" font-weight="bold" fill="#000">Overall survival (months)</text>
<text x="0" y="0" font-size="14.57" font-weight="bold" fill="#000" transform="translate(19.06,181.98) rotate(-90)">Cumulative Survival</text>
<text x="0" y="0" font-size="14.43" font-weight="bold" fill="#000" transform="translate(387.76,186.18) rotate(-90)">Cumulative survival</text>
<text x="0" y="0" font-size="14.50" font-weight="bold" fill="#000" transform="translate(14.99,477.98) rotate(-90)">Cumulative survival</text>
<text x="0" y="0" font-size="14.31" font-weight="bold" fill="#000" transform="translate(387.32,480.47) rotate(-90)">Cumulative survival</text>
<rect x="61.9" y="144.1" width="24.40" height="5.30" fill="#009b48"/>
<rect x="61.0" y="166.0" width="25.00" height="4.90" fill="#139fd6"/>
<text x="89.79" y="151.76" font-size="22.22" font-weight="normal" fill="#231f20" stroke="#231f20" stroke-width="0.35">GTR n=279</text>
<text x="91.02" y="177.88" font-size="21.68" font-weight="normal" fill="#231f20" stroke="#231f20" stroke-width="0.35">STR n=251</text>
<text x="65.11" y="205.61" font-size="22.35" font-weight="normal" fill="#231f20" stroke="#231f20" stroke-width="0.35">P = 0.456</text>
<rect x="431.0" y="157.5" width="24.60" height="4.90" fill="#009b48"/>
<rect x="431.8" y="185.9" width="24.50" height="4.90" fill="#139fd6"/>
<text x="460.69" y="165.09" font-size="22.16" font-weight="normal" fill="#231f20" stroke="#231f20" stroke-width="0.35">GTR n=213</text>
<text x="461.40" y="192.64" font-size="22.14" font-weight="normal" fill="#231f20" stroke="#231f20" stroke-width="0.35">STR n=213</text>
<text x="439.22" y="215.31" font-size="22.21" font-weight="normal" fill="#231f20" stroke="#231f20" stroke-width="0.35">P = 0.953</text>
<rect x="187.0" y="346.9" width="24.50" height="5.00" fill="#009b48"/>
<rect x="187.9" y="375.3" width="24.80" height="5.20" fill="#139fd6"/>
<text x="215.09" y="356.10" font-size="22.18" font-weight="normal" fill="#231f20" stroke="#231f20" stroke-width="0.35">GTR n=85</text>
<text x="218.10" y="384.09" font-size="22.14" font-weight="normal" fill="#231f20" stroke="#231f20" stroke-width="0.35">STR n=7</text>
<text x="204.26" y="412.34" font-size="21.71" font-weight="normal" fill="#231f20" stroke="#231f20" stroke-width="0.35">P &lt; 0.001</text>
<rect x="429.0" y="450.9" width="24.70" height="4.80" fill="#009b48"/>
<rect x="430.6" y="472.3" width="24.80" height="5.30" fill="#139fd6"/>
<text x="458.79" y="458.54" font-size="22.29" font-weight="normal" fill="#231f20" stroke="#231f20" stroke-width="0.35">GTR n=85</text>
<text x="460.70" y="482.65" font-size="22.16" font-weight="normal" fill="#231f20" stroke="#231f20" stroke-width="0.35">STR n=7</text>
<text x="436.51" y="508.05" font-size="22.33" font-weight="normal" fill="#231f20" stroke="#231f20" stroke-width="0.35">P = 0.073</text>
</svg>
</body></html>
